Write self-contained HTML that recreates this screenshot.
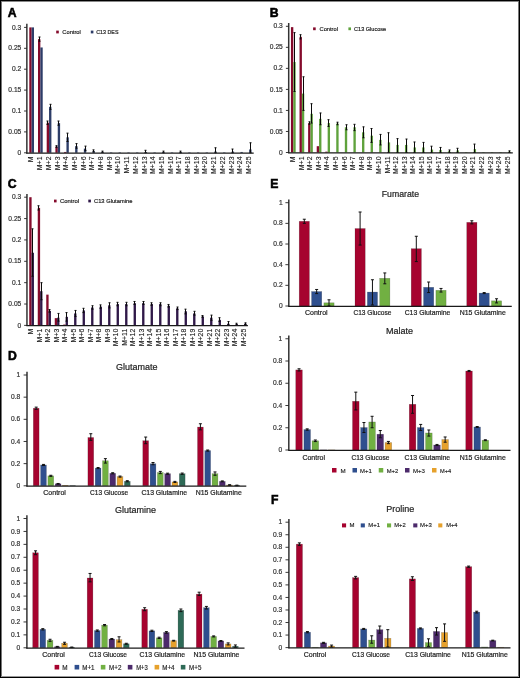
<!DOCTYPE html><html><head><meta charset="utf-8"><style>html,body{margin:0;padding:0;background:#fff;overflow:hidden}svg{display:block}#w{will-change:transform;width:520px;height:678px}text{font-family:"Liberation Sans",sans-serif}</style></head><body><div id="w"><svg width="520" height="678" viewBox="0 0 520 678" font-family="Liberation Sans, sans-serif">
<rect x="0.00" y="0.00" width="520.00" height="678.00" fill="#fff" />
<text x="7.80" y="16.60" font-size="12.2" text-anchor="start" fill="#000" stroke="#000" stroke-width="0.55" font-weight="bold" >A</text>
<text x="269.80" y="16.60" font-size="12.2" text-anchor="start" fill="#000" stroke="#000" stroke-width="0.55" font-weight="bold" >B</text>
<text x="7.80" y="187.80" font-size="12.2" text-anchor="start" fill="#000" stroke="#000" stroke-width="0.55" font-weight="bold" >C</text>
<text x="8.00" y="359.90" font-size="12.2" text-anchor="start" fill="#000" stroke="#000" stroke-width="0.55" font-weight="bold" >D</text>
<text x="270.20" y="187.60" font-size="12.2" text-anchor="start" fill="#000" stroke="#000" stroke-width="0.55" font-weight="bold" >E</text>
<text x="270.90" y="503.90" font-size="12.2" text-anchor="start" fill="#000" stroke="#000" stroke-width="0.55" font-weight="bold" >F</text>
<rect x="29.30" y="27.40" width="2.35" height="125.40" fill="#840A2B" />
<rect x="31.65" y="27.40" width="2.35" height="125.40" fill="#2D3D68" />
<rect x="38.00" y="39.10" width="2.35" height="113.70" fill="#840A2B" />
<line x1="39.50" y1="37.01" x2="39.50" y2="41.19" stroke="#0a0a0a" stroke-width="1.0"/>
<line x1="38.50" y1="37.01" x2="40.50" y2="37.01" stroke="#0a0a0a" stroke-width="1.0"/>
<line x1="38.50" y1="41.19" x2="40.50" y2="41.19" stroke="#0a0a0a" stroke-width="1.0"/>
<rect x="40.35" y="47.46" width="2.35" height="105.34" fill="#2D3D68" />
<rect x="46.70" y="122.70" width="2.35" height="30.10" fill="#840A2B" />
<line x1="47.50" y1="121.03" x2="47.50" y2="124.38" stroke="#0a0a0a" stroke-width="1.0"/>
<line x1="46.50" y1="121.03" x2="48.50" y2="121.03" stroke="#0a0a0a" stroke-width="1.0"/>
<line x1="46.50" y1="124.38" x2="48.50" y2="124.38" stroke="#0a0a0a" stroke-width="1.0"/>
<rect x="49.05" y="106.82" width="2.35" height="45.98" fill="#2D3D68" />
<line x1="50.50" y1="104.31" x2="50.50" y2="109.33" stroke="#0a0a0a" stroke-width="1.0"/>
<line x1="49.50" y1="104.31" x2="51.50" y2="104.31" stroke="#0a0a0a" stroke-width="1.0"/>
<line x1="49.50" y1="109.33" x2="51.50" y2="109.33" stroke="#0a0a0a" stroke-width="1.0"/>
<rect x="55.40" y="146.53" width="2.35" height="6.27" fill="#840A2B" />
<line x1="56.50" y1="145.69" x2="56.50" y2="147.37" stroke="#0a0a0a" stroke-width="1.0"/>
<line x1="55.50" y1="145.69" x2="57.50" y2="145.69" stroke="#0a0a0a" stroke-width="1.0"/>
<line x1="55.50" y1="147.37" x2="57.50" y2="147.37" stroke="#0a0a0a" stroke-width="1.0"/>
<rect x="57.75" y="123.12" width="2.35" height="29.68" fill="#2D3D68" />
<line x1="58.50" y1="121.03" x2="58.50" y2="125.21" stroke="#0a0a0a" stroke-width="1.0"/>
<line x1="57.50" y1="121.03" x2="59.50" y2="121.03" stroke="#0a0a0a" stroke-width="1.0"/>
<line x1="57.50" y1="125.21" x2="59.50" y2="125.21" stroke="#0a0a0a" stroke-width="1.0"/>
<rect x="64.10" y="151.96" width="2.35" height="0.84" fill="#840A2B" />
<rect x="66.45" y="137.33" width="2.35" height="15.47" fill="#2D3D68" />
<line x1="67.50" y1="133.15" x2="67.50" y2="141.51" stroke="#0a0a0a" stroke-width="1.0"/>
<line x1="66.50" y1="133.15" x2="68.50" y2="133.15" stroke="#0a0a0a" stroke-width="1.0"/>
<line x1="66.50" y1="141.51" x2="68.50" y2="141.51" stroke="#0a0a0a" stroke-width="1.0"/>
<rect x="75.15" y="146.11" width="2.35" height="6.69" fill="#2D3D68" />
<line x1="76.50" y1="143.60" x2="76.50" y2="148.20" stroke="#0a0a0a" stroke-width="1.0"/>
<line x1="75.50" y1="143.60" x2="77.50" y2="143.60" stroke="#0a0a0a" stroke-width="1.0"/>
<line x1="75.50" y1="148.20" x2="77.50" y2="148.20" stroke="#0a0a0a" stroke-width="1.0"/>
<rect x="83.85" y="148.62" width="2.35" height="4.18" fill="#2D3D68" />
<line x1="85.50" y1="146.11" x2="85.50" y2="150.71" stroke="#0a0a0a" stroke-width="1.0"/>
<line x1="84.50" y1="146.11" x2="86.50" y2="146.11" stroke="#0a0a0a" stroke-width="1.0"/>
<line x1="84.50" y1="150.71" x2="86.50" y2="150.71" stroke="#0a0a0a" stroke-width="1.0"/>
<rect x="92.55" y="151.13" width="2.35" height="1.67" fill="#2D3D68" />
<line x1="93.50" y1="149.87" x2="93.50" y2="151.96" stroke="#0a0a0a" stroke-width="1.0"/>
<line x1="92.50" y1="149.87" x2="94.50" y2="149.87" stroke="#0a0a0a" stroke-width="1.0"/>
<line x1="92.50" y1="151.96" x2="94.50" y2="151.96" stroke="#0a0a0a" stroke-width="1.0"/>
<rect x="101.25" y="151.96" width="2.35" height="0.84" fill="#2D3D68" />
<line x1="102.50" y1="151.13" x2="102.50" y2="152.38" stroke="#0a0a0a" stroke-width="1.0"/>
<line x1="101.50" y1="151.13" x2="103.50" y2="151.13" stroke="#0a0a0a" stroke-width="1.0"/>
<line x1="101.50" y1="152.38" x2="103.50" y2="152.38" stroke="#0a0a0a" stroke-width="1.0"/>
<rect x="109.95" y="152.38" width="2.35" height="0.42" fill="#2D3D68" />
<rect x="118.65" y="152.38" width="2.35" height="0.42" fill="#2D3D68" />
<rect x="127.35" y="152.38" width="2.35" height="0.42" fill="#2D3D68" />
<rect x="136.05" y="152.38" width="2.35" height="0.42" fill="#2D3D68" />
<rect x="144.75" y="151.96" width="2.35" height="0.84" fill="#2D3D68" />
<line x1="145.50" y1="150.29" x2="145.50" y2="152.80" stroke="#0a0a0a" stroke-width="1.0"/>
<line x1="144.50" y1="150.29" x2="146.50" y2="150.29" stroke="#0a0a0a" stroke-width="1.0"/>
<line x1="144.50" y1="152.80" x2="146.50" y2="152.80" stroke="#0a0a0a" stroke-width="1.0"/>
<rect x="153.45" y="152.38" width="2.35" height="0.42" fill="#2D3D68" />
<rect x="162.15" y="151.96" width="2.35" height="0.84" fill="#2D3D68" />
<line x1="163.50" y1="151.13" x2="163.50" y2="152.80" stroke="#0a0a0a" stroke-width="1.0"/>
<line x1="162.50" y1="151.13" x2="164.50" y2="151.13" stroke="#0a0a0a" stroke-width="1.0"/>
<line x1="162.50" y1="152.80" x2="164.50" y2="152.80" stroke="#0a0a0a" stroke-width="1.0"/>
<rect x="170.85" y="152.38" width="2.35" height="0.42" fill="#2D3D68" />
<rect x="179.55" y="151.96" width="2.35" height="0.84" fill="#2D3D68" />
<line x1="180.50" y1="151.13" x2="180.50" y2="152.80" stroke="#0a0a0a" stroke-width="1.0"/>
<line x1="179.50" y1="151.13" x2="181.50" y2="151.13" stroke="#0a0a0a" stroke-width="1.0"/>
<line x1="179.50" y1="152.80" x2="181.50" y2="152.80" stroke="#0a0a0a" stroke-width="1.0"/>
<rect x="188.25" y="152.38" width="2.35" height="0.42" fill="#2D3D68" />
<rect x="196.95" y="152.38" width="2.35" height="0.42" fill="#2D3D68" />
<rect x="205.65" y="152.38" width="2.35" height="0.42" fill="#2D3D68" />
<rect x="214.35" y="151.55" width="2.35" height="1.25" fill="#2D3D68" />
<line x1="215.50" y1="147.78" x2="215.50" y2="152.80" stroke="#0a0a0a" stroke-width="1.0"/>
<line x1="214.50" y1="147.78" x2="216.50" y2="147.78" stroke="#0a0a0a" stroke-width="1.0"/>
<line x1="214.50" y1="152.80" x2="216.50" y2="152.80" stroke="#0a0a0a" stroke-width="1.0"/>
<rect x="223.05" y="152.38" width="2.35" height="0.42" fill="#2D3D68" />
<rect x="231.75" y="151.55" width="2.35" height="1.25" fill="#2D3D68" />
<line x1="232.50" y1="149.04" x2="232.50" y2="152.80" stroke="#0a0a0a" stroke-width="1.0"/>
<line x1="231.50" y1="149.04" x2="233.50" y2="149.04" stroke="#0a0a0a" stroke-width="1.0"/>
<line x1="231.50" y1="152.80" x2="233.50" y2="152.80" stroke="#0a0a0a" stroke-width="1.0"/>
<rect x="240.45" y="151.96" width="2.35" height="0.84" fill="#2D3D68" />
<rect x="249.15" y="149.46" width="2.35" height="3.34" fill="#2D3D68" />
<line x1="250.50" y1="142.77" x2="250.50" y2="152.80" stroke="#0a0a0a" stroke-width="1.0"/>
<line x1="249.50" y1="142.77" x2="251.50" y2="142.77" stroke="#0a0a0a" stroke-width="1.0"/>
<line x1="249.50" y1="152.80" x2="251.50" y2="152.80" stroke="#0a0a0a" stroke-width="1.0"/>
<line x1="26.85" y1="23.70" x2="26.85" y2="153.40" stroke="#333" stroke-width="1.5"/>
<line x1="26.25" y1="153.10" x2="253.70" y2="153.10" stroke="#1a1a1a" stroke-width="1.3"/>
<line x1="24.05" y1="152.80" x2="26.85" y2="152.80" stroke="#222" stroke-width="0.9"/>
<text x="21.30" y="154.90" font-size="7.6" text-anchor="end" fill="#333" stroke="#333" stroke-width="0.22" textLength="3.70" lengthAdjust="spacingAndGlyphs" >0</text>
<line x1="24.05" y1="131.90" x2="26.85" y2="131.90" stroke="#222" stroke-width="0.9"/>
<text x="21.30" y="134.00" font-size="7.6" text-anchor="end" fill="#333" stroke="#333" stroke-width="0.22" textLength="12.94" lengthAdjust="spacingAndGlyphs" >0.05</text>
<line x1="24.05" y1="111.00" x2="26.85" y2="111.00" stroke="#222" stroke-width="0.9"/>
<text x="21.30" y="113.10" font-size="7.6" text-anchor="end" fill="#333" stroke="#333" stroke-width="0.22" textLength="9.24" lengthAdjust="spacingAndGlyphs" >0.1</text>
<line x1="24.05" y1="90.10" x2="26.85" y2="90.10" stroke="#222" stroke-width="0.9"/>
<text x="21.30" y="92.20" font-size="7.6" text-anchor="end" fill="#333" stroke="#333" stroke-width="0.22" textLength="12.94" lengthAdjust="spacingAndGlyphs" >0.15</text>
<line x1="24.05" y1="69.20" x2="26.85" y2="69.20" stroke="#222" stroke-width="0.9"/>
<text x="21.30" y="71.30" font-size="7.6" text-anchor="end" fill="#333" stroke="#333" stroke-width="0.22" textLength="9.24" lengthAdjust="spacingAndGlyphs" >0.2</text>
<line x1="24.05" y1="48.30" x2="26.85" y2="48.30" stroke="#222" stroke-width="0.9"/>
<text x="21.30" y="50.40" font-size="7.6" text-anchor="end" fill="#333" stroke="#333" stroke-width="0.22" textLength="12.94" lengthAdjust="spacingAndGlyphs" >0.25</text>
<line x1="24.05" y1="27.40" x2="26.85" y2="27.40" stroke="#222" stroke-width="0.9"/>
<text x="21.30" y="29.50" font-size="7.6" text-anchor="end" fill="#333" stroke="#333" stroke-width="0.22" textLength="9.24" lengthAdjust="spacingAndGlyphs" >0.3</text>
<text transform="translate(33.40,156.50) rotate(-90)" font-size="6.95" text-anchor="end" fill="#1a1a1a" stroke="#1a1a1a" stroke-width="0.1">M</text>
<text transform="translate(42.10,156.50) rotate(-90)" font-size="6.95" text-anchor="end" fill="#1a1a1a" stroke="#1a1a1a" stroke-width="0.1">M+1</text>
<text transform="translate(50.80,156.50) rotate(-90)" font-size="6.95" text-anchor="end" fill="#1a1a1a" stroke="#1a1a1a" stroke-width="0.1">M+2</text>
<text transform="translate(59.50,156.50) rotate(-90)" font-size="6.95" text-anchor="end" fill="#1a1a1a" stroke="#1a1a1a" stroke-width="0.1">M+3</text>
<text transform="translate(68.20,156.50) rotate(-90)" font-size="6.95" text-anchor="end" fill="#1a1a1a" stroke="#1a1a1a" stroke-width="0.1">M+4</text>
<text transform="translate(76.90,156.50) rotate(-90)" font-size="6.95" text-anchor="end" fill="#1a1a1a" stroke="#1a1a1a" stroke-width="0.1">M+5</text>
<text transform="translate(85.60,156.50) rotate(-90)" font-size="6.95" text-anchor="end" fill="#1a1a1a" stroke="#1a1a1a" stroke-width="0.1">M+6</text>
<text transform="translate(94.30,156.50) rotate(-90)" font-size="6.95" text-anchor="end" fill="#1a1a1a" stroke="#1a1a1a" stroke-width="0.1">M+7</text>
<text transform="translate(103.00,156.50) rotate(-90)" font-size="6.95" text-anchor="end" fill="#1a1a1a" stroke="#1a1a1a" stroke-width="0.1">M+8</text>
<text transform="translate(111.70,156.50) rotate(-90)" font-size="6.95" text-anchor="end" fill="#1a1a1a" stroke="#1a1a1a" stroke-width="0.1">M+9</text>
<text transform="translate(120.40,156.50) rotate(-90)" font-size="6.95" text-anchor="end" fill="#1a1a1a" stroke="#1a1a1a" stroke-width="0.1">M+10</text>
<text transform="translate(129.10,156.50) rotate(-90)" font-size="6.95" text-anchor="end" fill="#1a1a1a" stroke="#1a1a1a" stroke-width="0.1">M+11</text>
<text transform="translate(137.80,156.50) rotate(-90)" font-size="6.95" text-anchor="end" fill="#1a1a1a" stroke="#1a1a1a" stroke-width="0.1">M+12</text>
<text transform="translate(146.50,156.50) rotate(-90)" font-size="6.95" text-anchor="end" fill="#1a1a1a" stroke="#1a1a1a" stroke-width="0.1">M+13</text>
<text transform="translate(155.20,156.50) rotate(-90)" font-size="6.95" text-anchor="end" fill="#1a1a1a" stroke="#1a1a1a" stroke-width="0.1">M+14</text>
<text transform="translate(163.90,156.50) rotate(-90)" font-size="6.95" text-anchor="end" fill="#1a1a1a" stroke="#1a1a1a" stroke-width="0.1">M+15</text>
<text transform="translate(172.60,156.50) rotate(-90)" font-size="6.95" text-anchor="end" fill="#1a1a1a" stroke="#1a1a1a" stroke-width="0.1">M+16</text>
<text transform="translate(181.30,156.50) rotate(-90)" font-size="6.95" text-anchor="end" fill="#1a1a1a" stroke="#1a1a1a" stroke-width="0.1">M+17</text>
<text transform="translate(190.00,156.50) rotate(-90)" font-size="6.95" text-anchor="end" fill="#1a1a1a" stroke="#1a1a1a" stroke-width="0.1">M+18</text>
<text transform="translate(198.70,156.50) rotate(-90)" font-size="6.95" text-anchor="end" fill="#1a1a1a" stroke="#1a1a1a" stroke-width="0.1">M+19</text>
<text transform="translate(207.40,156.50) rotate(-90)" font-size="6.95" text-anchor="end" fill="#1a1a1a" stroke="#1a1a1a" stroke-width="0.1">M+20</text>
<text transform="translate(216.10,156.50) rotate(-90)" font-size="6.95" text-anchor="end" fill="#1a1a1a" stroke="#1a1a1a" stroke-width="0.1">M+21</text>
<text transform="translate(224.80,156.50) rotate(-90)" font-size="6.95" text-anchor="end" fill="#1a1a1a" stroke="#1a1a1a" stroke-width="0.1">M+22</text>
<text transform="translate(233.50,156.50) rotate(-90)" font-size="6.95" text-anchor="end" fill="#1a1a1a" stroke="#1a1a1a" stroke-width="0.1">M+23</text>
<text transform="translate(242.20,156.50) rotate(-90)" font-size="6.95" text-anchor="end" fill="#1a1a1a" stroke="#1a1a1a" stroke-width="0.1">M+24</text>
<text transform="translate(250.90,156.50) rotate(-90)" font-size="6.95" text-anchor="end" fill="#1a1a1a" stroke="#1a1a1a" stroke-width="0.1">M+25</text>
<rect x="56.20" y="30.60" width="2.60" height="2.80" fill="#840A2B" />
<text x="62.30" y="34.00" font-size="6.0" text-anchor="start" fill="#222" stroke="#222" stroke-width="0.2" textLength="18.50" lengthAdjust="spacingAndGlyphs" >Control</text>
<rect x="90.80" y="30.60" width="2.60" height="2.80" fill="#2D3D68" />
<text x="96.20" y="34.00" font-size="6.0" text-anchor="start" fill="#222" stroke="#222" stroke-width="0.2" textLength="22.30" lengthAdjust="spacingAndGlyphs" >C13 DES</text>
<rect x="290.95" y="27.14" width="2.35" height="125.36" fill="#840A2B" />
<rect x="293.30" y="62.06" width="2.35" height="90.44" fill="#5FA23C" />
<line x1="294.50" y1="32.61" x2="294.50" y2="91.50" stroke="#0a0a0a" stroke-width="1.0"/>
<line x1="293.50" y1="32.61" x2="295.50" y2="32.61" stroke="#0a0a0a" stroke-width="1.0"/>
<line x1="293.50" y1="91.50" x2="295.50" y2="91.50" stroke="#0a0a0a" stroke-width="1.0"/>
<rect x="299.54" y="36.82" width="2.35" height="115.68" fill="#840A2B" />
<line x1="300.50" y1="34.71" x2="300.50" y2="38.92" stroke="#0a0a0a" stroke-width="1.0"/>
<line x1="299.50" y1="34.71" x2="301.50" y2="34.71" stroke="#0a0a0a" stroke-width="1.0"/>
<line x1="299.50" y1="38.92" x2="301.50" y2="38.92" stroke="#0a0a0a" stroke-width="1.0"/>
<rect x="301.89" y="93.61" width="2.35" height="58.89" fill="#5FA23C" />
<line x1="303.50" y1="76.78" x2="303.50" y2="110.43" stroke="#0a0a0a" stroke-width="1.0"/>
<line x1="302.50" y1="76.78" x2="304.50" y2="76.78" stroke="#0a0a0a" stroke-width="1.0"/>
<line x1="302.50" y1="110.43" x2="304.50" y2="110.43" stroke="#0a0a0a" stroke-width="1.0"/>
<rect x="308.13" y="123.05" width="2.35" height="29.45" fill="#840A2B" />
<line x1="309.50" y1="121.79" x2="309.50" y2="124.32" stroke="#0a0a0a" stroke-width="1.0"/>
<line x1="308.50" y1="121.79" x2="310.50" y2="121.79" stroke="#0a0a0a" stroke-width="1.0"/>
<line x1="308.50" y1="124.32" x2="310.50" y2="124.32" stroke="#0a0a0a" stroke-width="1.0"/>
<rect x="310.48" y="113.80" width="2.35" height="38.70" fill="#5FA23C" />
<line x1="311.50" y1="103.70" x2="311.50" y2="123.05" stroke="#0a0a0a" stroke-width="1.0"/>
<line x1="310.50" y1="103.70" x2="312.50" y2="103.70" stroke="#0a0a0a" stroke-width="1.0"/>
<line x1="310.50" y1="123.05" x2="312.50" y2="123.05" stroke="#0a0a0a" stroke-width="1.0"/>
<rect x="316.72" y="146.19" width="2.35" height="6.31" fill="#840A2B" />
<rect x="319.07" y="118.85" width="2.35" height="33.65" fill="#5FA23C" />
<line x1="320.50" y1="112.96" x2="320.50" y2="124.74" stroke="#0a0a0a" stroke-width="1.0"/>
<line x1="319.50" y1="112.96" x2="321.50" y2="112.96" stroke="#0a0a0a" stroke-width="1.0"/>
<line x1="319.50" y1="124.74" x2="321.50" y2="124.74" stroke="#0a0a0a" stroke-width="1.0"/>
<rect x="325.31" y="151.66" width="2.35" height="0.84" fill="#840A2B" />
<rect x="327.66" y="123.05" width="2.35" height="29.45" fill="#5FA23C" />
<line x1="328.50" y1="119.69" x2="328.50" y2="126.42" stroke="#0a0a0a" stroke-width="1.0"/>
<line x1="327.50" y1="119.69" x2="329.50" y2="119.69" stroke="#0a0a0a" stroke-width="1.0"/>
<line x1="327.50" y1="126.42" x2="329.50" y2="126.42" stroke="#0a0a0a" stroke-width="1.0"/>
<rect x="336.25" y="123.47" width="2.35" height="29.03" fill="#5FA23C" />
<line x1="337.50" y1="122.21" x2="337.50" y2="124.74" stroke="#0a0a0a" stroke-width="1.0"/>
<line x1="336.50" y1="122.21" x2="338.50" y2="122.21" stroke="#0a0a0a" stroke-width="1.0"/>
<line x1="336.50" y1="124.74" x2="338.50" y2="124.74" stroke="#0a0a0a" stroke-width="1.0"/>
<rect x="344.84" y="127.26" width="2.35" height="25.24" fill="#5FA23C" />
<line x1="346.50" y1="124.74" x2="346.50" y2="129.78" stroke="#0a0a0a" stroke-width="1.0"/>
<line x1="345.50" y1="124.74" x2="347.50" y2="124.74" stroke="#0a0a0a" stroke-width="1.0"/>
<line x1="345.50" y1="129.78" x2="347.50" y2="129.78" stroke="#0a0a0a" stroke-width="1.0"/>
<rect x="353.43" y="127.26" width="2.35" height="25.24" fill="#5FA23C" />
<line x1="354.50" y1="124.32" x2="354.50" y2="130.63" stroke="#0a0a0a" stroke-width="1.0"/>
<line x1="353.50" y1="124.32" x2="355.50" y2="124.32" stroke="#0a0a0a" stroke-width="1.0"/>
<line x1="353.50" y1="130.63" x2="355.50" y2="130.63" stroke="#0a0a0a" stroke-width="1.0"/>
<rect x="362.02" y="132.31" width="2.35" height="20.19" fill="#5FA23C" />
<line x1="363.50" y1="126.84" x2="363.50" y2="137.78" stroke="#0a0a0a" stroke-width="1.0"/>
<line x1="362.50" y1="126.84" x2="364.50" y2="126.84" stroke="#0a0a0a" stroke-width="1.0"/>
<line x1="362.50" y1="137.78" x2="364.50" y2="137.78" stroke="#0a0a0a" stroke-width="1.0"/>
<rect x="370.61" y="135.67" width="2.35" height="16.83" fill="#5FA23C" />
<line x1="371.50" y1="128.52" x2="371.50" y2="142.40" stroke="#0a0a0a" stroke-width="1.0"/>
<line x1="370.50" y1="128.52" x2="372.50" y2="128.52" stroke="#0a0a0a" stroke-width="1.0"/>
<line x1="370.50" y1="142.40" x2="372.50" y2="142.40" stroke="#0a0a0a" stroke-width="1.0"/>
<rect x="379.20" y="139.88" width="2.35" height="12.62" fill="#5FA23C" />
<line x1="380.50" y1="134.41" x2="380.50" y2="144.93" stroke="#0a0a0a" stroke-width="1.0"/>
<line x1="379.50" y1="134.41" x2="381.50" y2="134.41" stroke="#0a0a0a" stroke-width="1.0"/>
<line x1="379.50" y1="144.93" x2="381.50" y2="144.93" stroke="#0a0a0a" stroke-width="1.0"/>
<rect x="387.79" y="142.40" width="2.35" height="10.10" fill="#5FA23C" />
<line x1="388.50" y1="132.73" x2="388.50" y2="152.50" stroke="#0a0a0a" stroke-width="1.0"/>
<line x1="387.50" y1="132.73" x2="389.50" y2="132.73" stroke="#0a0a0a" stroke-width="1.0"/>
<line x1="387.50" y1="152.50" x2="389.50" y2="152.50" stroke="#0a0a0a" stroke-width="1.0"/>
<rect x="396.38" y="144.93" width="2.35" height="7.57" fill="#5FA23C" />
<line x1="397.50" y1="138.62" x2="397.50" y2="152.50" stroke="#0a0a0a" stroke-width="1.0"/>
<line x1="396.50" y1="138.62" x2="398.50" y2="138.62" stroke="#0a0a0a" stroke-width="1.0"/>
<line x1="396.50" y1="152.50" x2="398.50" y2="152.50" stroke="#0a0a0a" stroke-width="1.0"/>
<rect x="404.97" y="144.93" width="2.35" height="7.57" fill="#5FA23C" />
<line x1="406.50" y1="139.04" x2="406.50" y2="152.50" stroke="#0a0a0a" stroke-width="1.0"/>
<line x1="405.50" y1="139.04" x2="407.50" y2="139.04" stroke="#0a0a0a" stroke-width="1.0"/>
<line x1="405.50" y1="152.50" x2="407.50" y2="152.50" stroke="#0a0a0a" stroke-width="1.0"/>
<rect x="413.56" y="147.45" width="2.35" height="5.05" fill="#5FA23C" />
<line x1="414.50" y1="141.98" x2="414.50" y2="152.50" stroke="#0a0a0a" stroke-width="1.0"/>
<line x1="413.50" y1="141.98" x2="415.50" y2="141.98" stroke="#0a0a0a" stroke-width="1.0"/>
<line x1="413.50" y1="152.50" x2="415.50" y2="152.50" stroke="#0a0a0a" stroke-width="1.0"/>
<rect x="422.15" y="147.45" width="2.35" height="5.05" fill="#5FA23C" />
<line x1="423.50" y1="142.40" x2="423.50" y2="152.50" stroke="#0a0a0a" stroke-width="1.0"/>
<line x1="422.50" y1="142.40" x2="424.50" y2="142.40" stroke="#0a0a0a" stroke-width="1.0"/>
<line x1="422.50" y1="152.50" x2="424.50" y2="152.50" stroke="#0a0a0a" stroke-width="1.0"/>
<rect x="430.74" y="149.56" width="2.35" height="2.94" fill="#5FA23C" />
<line x1="431.50" y1="146.19" x2="431.50" y2="152.50" stroke="#0a0a0a" stroke-width="1.0"/>
<line x1="430.50" y1="146.19" x2="432.50" y2="146.19" stroke="#0a0a0a" stroke-width="1.0"/>
<line x1="430.50" y1="152.50" x2="432.50" y2="152.50" stroke="#0a0a0a" stroke-width="1.0"/>
<rect x="439.33" y="149.98" width="2.35" height="2.52" fill="#5FA23C" />
<line x1="440.50" y1="147.45" x2="440.50" y2="152.50" stroke="#0a0a0a" stroke-width="1.0"/>
<line x1="439.50" y1="147.45" x2="441.50" y2="147.45" stroke="#0a0a0a" stroke-width="1.0"/>
<line x1="439.50" y1="152.50" x2="441.50" y2="152.50" stroke="#0a0a0a" stroke-width="1.0"/>
<rect x="447.92" y="151.24" width="2.35" height="1.26" fill="#5FA23C" />
<line x1="449.50" y1="149.98" x2="449.50" y2="152.50" stroke="#0a0a0a" stroke-width="1.0"/>
<line x1="448.50" y1="149.98" x2="450.50" y2="149.98" stroke="#0a0a0a" stroke-width="1.0"/>
<line x1="448.50" y1="152.50" x2="450.50" y2="152.50" stroke="#0a0a0a" stroke-width="1.0"/>
<rect x="456.51" y="150.40" width="2.35" height="2.10" fill="#5FA23C" />
<line x1="457.50" y1="148.29" x2="457.50" y2="152.50" stroke="#0a0a0a" stroke-width="1.0"/>
<line x1="456.50" y1="148.29" x2="458.50" y2="148.29" stroke="#0a0a0a" stroke-width="1.0"/>
<line x1="456.50" y1="152.50" x2="458.50" y2="152.50" stroke="#0a0a0a" stroke-width="1.0"/>
<rect x="465.10" y="152.08" width="2.35" height="0.42" fill="#5FA23C" />
<rect x="473.69" y="149.13" width="2.35" height="3.37" fill="#5FA23C" />
<line x1="474.50" y1="144.09" x2="474.50" y2="152.50" stroke="#0a0a0a" stroke-width="1.0"/>
<line x1="473.50" y1="144.09" x2="475.50" y2="144.09" stroke="#0a0a0a" stroke-width="1.0"/>
<line x1="473.50" y1="152.50" x2="475.50" y2="152.50" stroke="#0a0a0a" stroke-width="1.0"/>
<rect x="482.28" y="152.08" width="2.35" height="0.42" fill="#5FA23C" />
<rect x="490.87" y="152.08" width="2.35" height="0.42" fill="#5FA23C" />
<rect x="499.46" y="152.08" width="2.35" height="0.42" fill="#5FA23C" />
<rect x="508.05" y="151.66" width="2.35" height="0.84" fill="#5FA23C" />
<line x1="509.50" y1="150.82" x2="509.50" y2="152.50" stroke="#0a0a0a" stroke-width="1.0"/>
<line x1="508.50" y1="150.82" x2="510.50" y2="150.82" stroke="#0a0a0a" stroke-width="1.0"/>
<line x1="508.50" y1="152.50" x2="510.50" y2="152.50" stroke="#0a0a0a" stroke-width="1.0"/>
<line x1="288.70" y1="23.00" x2="288.70" y2="153.10" stroke="#333" stroke-width="1.5"/>
<line x1="288.10" y1="152.80" x2="512.80" y2="152.80" stroke="#1a1a1a" stroke-width="1.3"/>
<line x1="285.90" y1="152.50" x2="288.70" y2="152.50" stroke="#222" stroke-width="0.9"/>
<text x="282.80" y="154.60" font-size="7.6" text-anchor="end" fill="#333" stroke="#333" stroke-width="0.22" textLength="3.70" lengthAdjust="spacingAndGlyphs" >0</text>
<line x1="285.90" y1="131.47" x2="288.70" y2="131.47" stroke="#222" stroke-width="0.9"/>
<text x="282.80" y="133.57" font-size="7.6" text-anchor="end" fill="#333" stroke="#333" stroke-width="0.22" textLength="12.94" lengthAdjust="spacingAndGlyphs" >0.05</text>
<line x1="285.90" y1="110.43" x2="288.70" y2="110.43" stroke="#222" stroke-width="0.9"/>
<text x="282.80" y="112.53" font-size="7.6" text-anchor="end" fill="#333" stroke="#333" stroke-width="0.22" textLength="9.24" lengthAdjust="spacingAndGlyphs" >0.1</text>
<line x1="285.90" y1="89.40" x2="288.70" y2="89.40" stroke="#222" stroke-width="0.9"/>
<text x="282.80" y="91.50" font-size="7.6" text-anchor="end" fill="#333" stroke="#333" stroke-width="0.22" textLength="12.94" lengthAdjust="spacingAndGlyphs" >0.15</text>
<line x1="285.90" y1="68.37" x2="288.70" y2="68.37" stroke="#222" stroke-width="0.9"/>
<text x="282.80" y="70.47" font-size="7.6" text-anchor="end" fill="#333" stroke="#333" stroke-width="0.22" textLength="9.24" lengthAdjust="spacingAndGlyphs" >0.2</text>
<line x1="285.90" y1="47.33" x2="288.70" y2="47.33" stroke="#222" stroke-width="0.9"/>
<text x="282.80" y="49.43" font-size="7.6" text-anchor="end" fill="#333" stroke="#333" stroke-width="0.22" textLength="12.94" lengthAdjust="spacingAndGlyphs" >0.25</text>
<line x1="285.90" y1="26.30" x2="288.70" y2="26.30" stroke="#222" stroke-width="0.9"/>
<text x="282.80" y="28.40" font-size="7.6" text-anchor="end" fill="#333" stroke="#333" stroke-width="0.22" textLength="9.24" lengthAdjust="spacingAndGlyphs" >0.3</text>
<text transform="translate(295.05,156.50) rotate(-90)" font-size="6.95" text-anchor="end" fill="#1a1a1a" stroke="#1a1a1a" stroke-width="0.1">M</text>
<text transform="translate(303.64,156.50) rotate(-90)" font-size="6.95" text-anchor="end" fill="#1a1a1a" stroke="#1a1a1a" stroke-width="0.1">M+1</text>
<text transform="translate(312.23,156.50) rotate(-90)" font-size="6.95" text-anchor="end" fill="#1a1a1a" stroke="#1a1a1a" stroke-width="0.1">M+2</text>
<text transform="translate(320.82,156.50) rotate(-90)" font-size="6.95" text-anchor="end" fill="#1a1a1a" stroke="#1a1a1a" stroke-width="0.1">M+3</text>
<text transform="translate(329.41,156.50) rotate(-90)" font-size="6.95" text-anchor="end" fill="#1a1a1a" stroke="#1a1a1a" stroke-width="0.1">M+4</text>
<text transform="translate(338.00,156.50) rotate(-90)" font-size="6.95" text-anchor="end" fill="#1a1a1a" stroke="#1a1a1a" stroke-width="0.1">M+5</text>
<text transform="translate(346.59,156.50) rotate(-90)" font-size="6.95" text-anchor="end" fill="#1a1a1a" stroke="#1a1a1a" stroke-width="0.1">M+6</text>
<text transform="translate(355.18,156.50) rotate(-90)" font-size="6.95" text-anchor="end" fill="#1a1a1a" stroke="#1a1a1a" stroke-width="0.1">M+7</text>
<text transform="translate(363.77,156.50) rotate(-90)" font-size="6.95" text-anchor="end" fill="#1a1a1a" stroke="#1a1a1a" stroke-width="0.1">M+8</text>
<text transform="translate(372.36,156.50) rotate(-90)" font-size="6.95" text-anchor="end" fill="#1a1a1a" stroke="#1a1a1a" stroke-width="0.1">M+9</text>
<text transform="translate(380.95,156.50) rotate(-90)" font-size="6.95" text-anchor="end" fill="#1a1a1a" stroke="#1a1a1a" stroke-width="0.1">M+10</text>
<text transform="translate(389.54,156.50) rotate(-90)" font-size="6.95" text-anchor="end" fill="#1a1a1a" stroke="#1a1a1a" stroke-width="0.1">M+11</text>
<text transform="translate(398.13,156.50) rotate(-90)" font-size="6.95" text-anchor="end" fill="#1a1a1a" stroke="#1a1a1a" stroke-width="0.1">M+12</text>
<text transform="translate(406.72,156.50) rotate(-90)" font-size="6.95" text-anchor="end" fill="#1a1a1a" stroke="#1a1a1a" stroke-width="0.1">M+13</text>
<text transform="translate(415.31,156.50) rotate(-90)" font-size="6.95" text-anchor="end" fill="#1a1a1a" stroke="#1a1a1a" stroke-width="0.1">M+14</text>
<text transform="translate(423.90,156.50) rotate(-90)" font-size="6.95" text-anchor="end" fill="#1a1a1a" stroke="#1a1a1a" stroke-width="0.1">M+15</text>
<text transform="translate(432.49,156.50) rotate(-90)" font-size="6.95" text-anchor="end" fill="#1a1a1a" stroke="#1a1a1a" stroke-width="0.1">M+16</text>
<text transform="translate(441.08,156.50) rotate(-90)" font-size="6.95" text-anchor="end" fill="#1a1a1a" stroke="#1a1a1a" stroke-width="0.1">M+17</text>
<text transform="translate(449.67,156.50) rotate(-90)" font-size="6.95" text-anchor="end" fill="#1a1a1a" stroke="#1a1a1a" stroke-width="0.1">M+18</text>
<text transform="translate(458.26,156.50) rotate(-90)" font-size="6.95" text-anchor="end" fill="#1a1a1a" stroke="#1a1a1a" stroke-width="0.1">M+19</text>
<text transform="translate(466.85,156.50) rotate(-90)" font-size="6.95" text-anchor="end" fill="#1a1a1a" stroke="#1a1a1a" stroke-width="0.1">M+20</text>
<text transform="translate(475.44,156.50) rotate(-90)" font-size="6.95" text-anchor="end" fill="#1a1a1a" stroke="#1a1a1a" stroke-width="0.1">M+21</text>
<text transform="translate(484.03,156.50) rotate(-90)" font-size="6.95" text-anchor="end" fill="#1a1a1a" stroke="#1a1a1a" stroke-width="0.1">M+22</text>
<text transform="translate(492.62,156.50) rotate(-90)" font-size="6.95" text-anchor="end" fill="#1a1a1a" stroke="#1a1a1a" stroke-width="0.1">M+23</text>
<text transform="translate(501.21,156.50) rotate(-90)" font-size="6.95" text-anchor="end" fill="#1a1a1a" stroke="#1a1a1a" stroke-width="0.1">M+24</text>
<text transform="translate(509.80,156.50) rotate(-90)" font-size="6.95" text-anchor="end" fill="#1a1a1a" stroke="#1a1a1a" stroke-width="0.1">M+25</text>
<rect x="313.10" y="27.40" width="2.60" height="2.80" fill="#840A2B" />
<text x="319.50" y="30.80" font-size="6.0" text-anchor="start" fill="#222" stroke="#222" stroke-width="0.2" textLength="18.50" lengthAdjust="spacingAndGlyphs" >Control</text>
<rect x="348.40" y="27.40" width="2.60" height="2.80" fill="#5FA23C" />
<text x="354.10" y="30.80" font-size="6.0" text-anchor="start" fill="#222" stroke="#222" stroke-width="0.2" textLength="32.00" lengthAdjust="spacingAndGlyphs" >C13 Glucose</text>
<rect x="29.25" y="197.20" width="2.35" height="128.20" fill="#840A2B" />
<rect x="31.60" y="252.75" width="2.35" height="72.65" fill="#2F1848" />
<line x1="32.50" y1="228.82" x2="32.50" y2="276.26" stroke="#0a0a0a" stroke-width="1.0"/>
<line x1="31.50" y1="228.82" x2="33.50" y2="228.82" stroke="#0a0a0a" stroke-width="1.0"/>
<line x1="31.50" y1="276.26" x2="33.50" y2="276.26" stroke="#0a0a0a" stroke-width="1.0"/>
<rect x="37.75" y="207.88" width="2.35" height="117.52" fill="#840A2B" />
<line x1="38.50" y1="205.75" x2="38.50" y2="210.02" stroke="#0a0a0a" stroke-width="1.0"/>
<line x1="37.50" y1="205.75" x2="39.50" y2="205.75" stroke="#0a0a0a" stroke-width="1.0"/>
<line x1="37.50" y1="210.02" x2="39.50" y2="210.02" stroke="#0a0a0a" stroke-width="1.0"/>
<rect x="40.10" y="291.21" width="2.35" height="34.19" fill="#2F1848" />
<line x1="41.50" y1="282.67" x2="41.50" y2="299.76" stroke="#0a0a0a" stroke-width="1.0"/>
<line x1="40.50" y1="282.67" x2="42.50" y2="282.67" stroke="#0a0a0a" stroke-width="1.0"/>
<line x1="40.50" y1="299.76" x2="42.50" y2="299.76" stroke="#0a0a0a" stroke-width="1.0"/>
<rect x="46.25" y="294.63" width="2.35" height="30.77" fill="#840A2B" />
<rect x="48.60" y="310.87" width="2.35" height="14.53" fill="#2F1848" />
<line x1="49.50" y1="309.59" x2="49.50" y2="312.15" stroke="#0a0a0a" stroke-width="1.0"/>
<line x1="48.50" y1="309.59" x2="50.50" y2="309.59" stroke="#0a0a0a" stroke-width="1.0"/>
<line x1="48.50" y1="312.15" x2="50.50" y2="312.15" stroke="#0a0a0a" stroke-width="1.0"/>
<rect x="54.75" y="318.14" width="2.35" height="7.26" fill="#840A2B" />
<rect x="57.10" y="317.71" width="2.35" height="7.69" fill="#2F1848" />
<line x1="58.50" y1="313.43" x2="58.50" y2="321.13" stroke="#0a0a0a" stroke-width="1.0"/>
<line x1="57.50" y1="313.43" x2="59.50" y2="313.43" stroke="#0a0a0a" stroke-width="1.0"/>
<line x1="57.50" y1="321.13" x2="59.50" y2="321.13" stroke="#0a0a0a" stroke-width="1.0"/>
<rect x="63.25" y="324.55" width="2.35" height="0.85" fill="#840A2B" />
<rect x="65.60" y="316.85" width="2.35" height="8.55" fill="#2F1848" />
<line x1="66.50" y1="312.58" x2="66.50" y2="321.13" stroke="#0a0a0a" stroke-width="1.0"/>
<line x1="65.50" y1="312.58" x2="67.50" y2="312.58" stroke="#0a0a0a" stroke-width="1.0"/>
<line x1="65.50" y1="321.13" x2="67.50" y2="321.13" stroke="#0a0a0a" stroke-width="1.0"/>
<rect x="74.10" y="313.43" width="2.35" height="11.97" fill="#2F1848" />
<line x1="75.50" y1="310.44" x2="75.50" y2="316.43" stroke="#0a0a0a" stroke-width="1.0"/>
<line x1="74.50" y1="310.44" x2="76.50" y2="310.44" stroke="#0a0a0a" stroke-width="1.0"/>
<line x1="74.50" y1="316.43" x2="76.50" y2="316.43" stroke="#0a0a0a" stroke-width="1.0"/>
<rect x="82.60" y="310.44" width="2.35" height="14.96" fill="#2F1848" />
<line x1="83.50" y1="308.31" x2="83.50" y2="312.58" stroke="#0a0a0a" stroke-width="1.0"/>
<line x1="82.50" y1="308.31" x2="84.50" y2="308.31" stroke="#0a0a0a" stroke-width="1.0"/>
<line x1="82.50" y1="312.58" x2="84.50" y2="312.58" stroke="#0a0a0a" stroke-width="1.0"/>
<rect x="91.10" y="307.45" width="2.35" height="17.95" fill="#2F1848" />
<line x1="92.50" y1="305.74" x2="92.50" y2="309.16" stroke="#0a0a0a" stroke-width="1.0"/>
<line x1="91.50" y1="305.74" x2="93.50" y2="305.74" stroke="#0a0a0a" stroke-width="1.0"/>
<line x1="91.50" y1="309.16" x2="93.50" y2="309.16" stroke="#0a0a0a" stroke-width="1.0"/>
<rect x="99.60" y="306.60" width="2.35" height="18.80" fill="#2F1848" />
<line x1="100.50" y1="304.89" x2="100.50" y2="308.31" stroke="#0a0a0a" stroke-width="1.0"/>
<line x1="99.50" y1="304.89" x2="101.50" y2="304.89" stroke="#0a0a0a" stroke-width="1.0"/>
<line x1="99.50" y1="308.31" x2="101.50" y2="308.31" stroke="#0a0a0a" stroke-width="1.0"/>
<rect x="108.10" y="305.32" width="2.35" height="20.08" fill="#2F1848" />
<line x1="109.50" y1="302.75" x2="109.50" y2="307.88" stroke="#0a0a0a" stroke-width="1.0"/>
<line x1="108.50" y1="302.75" x2="110.50" y2="302.75" stroke="#0a0a0a" stroke-width="1.0"/>
<line x1="108.50" y1="307.88" x2="110.50" y2="307.88" stroke="#0a0a0a" stroke-width="1.0"/>
<rect x="116.60" y="304.03" width="2.35" height="21.37" fill="#2F1848" />
<line x1="117.50" y1="302.32" x2="117.50" y2="305.74" stroke="#0a0a0a" stroke-width="1.0"/>
<line x1="116.50" y1="302.32" x2="118.50" y2="302.32" stroke="#0a0a0a" stroke-width="1.0"/>
<line x1="116.50" y1="305.74" x2="118.50" y2="305.74" stroke="#0a0a0a" stroke-width="1.0"/>
<rect x="125.10" y="304.03" width="2.35" height="21.37" fill="#2F1848" />
<line x1="126.50" y1="302.32" x2="126.50" y2="305.74" stroke="#0a0a0a" stroke-width="1.0"/>
<line x1="125.50" y1="302.32" x2="127.50" y2="302.32" stroke="#0a0a0a" stroke-width="1.0"/>
<line x1="125.50" y1="305.74" x2="127.50" y2="305.74" stroke="#0a0a0a" stroke-width="1.0"/>
<rect x="133.60" y="303.18" width="2.35" height="22.22" fill="#2F1848" />
<line x1="134.50" y1="301.47" x2="134.50" y2="304.46" stroke="#0a0a0a" stroke-width="1.0"/>
<line x1="133.50" y1="301.47" x2="135.50" y2="301.47" stroke="#0a0a0a" stroke-width="1.0"/>
<line x1="133.50" y1="304.46" x2="135.50" y2="304.46" stroke="#0a0a0a" stroke-width="1.0"/>
<rect x="142.10" y="303.18" width="2.35" height="22.22" fill="#2F1848" />
<line x1="143.50" y1="301.47" x2="143.50" y2="304.46" stroke="#0a0a0a" stroke-width="1.0"/>
<line x1="142.50" y1="301.47" x2="144.50" y2="301.47" stroke="#0a0a0a" stroke-width="1.0"/>
<line x1="142.50" y1="304.46" x2="144.50" y2="304.46" stroke="#0a0a0a" stroke-width="1.0"/>
<rect x="150.60" y="304.03" width="2.35" height="21.37" fill="#2F1848" />
<line x1="151.50" y1="302.75" x2="151.50" y2="305.32" stroke="#0a0a0a" stroke-width="1.0"/>
<line x1="150.50" y1="302.75" x2="152.50" y2="302.75" stroke="#0a0a0a" stroke-width="1.0"/>
<line x1="150.50" y1="305.32" x2="152.50" y2="305.32" stroke="#0a0a0a" stroke-width="1.0"/>
<rect x="159.10" y="304.03" width="2.35" height="21.37" fill="#2F1848" />
<line x1="160.50" y1="302.75" x2="160.50" y2="305.74" stroke="#0a0a0a" stroke-width="1.0"/>
<line x1="159.50" y1="302.75" x2="161.50" y2="302.75" stroke="#0a0a0a" stroke-width="1.0"/>
<line x1="159.50" y1="305.74" x2="161.50" y2="305.74" stroke="#0a0a0a" stroke-width="1.0"/>
<rect x="167.60" y="305.74" width="2.35" height="19.66" fill="#2F1848" />
<line x1="168.50" y1="304.46" x2="168.50" y2="307.02" stroke="#0a0a0a" stroke-width="1.0"/>
<line x1="167.50" y1="304.46" x2="169.50" y2="304.46" stroke="#0a0a0a" stroke-width="1.0"/>
<line x1="167.50" y1="307.02" x2="169.50" y2="307.02" stroke="#0a0a0a" stroke-width="1.0"/>
<rect x="176.10" y="308.31" width="2.35" height="17.09" fill="#2F1848" />
<line x1="177.50" y1="307.02" x2="177.50" y2="309.59" stroke="#0a0a0a" stroke-width="1.0"/>
<line x1="176.50" y1="307.02" x2="178.50" y2="307.02" stroke="#0a0a0a" stroke-width="1.0"/>
<line x1="176.50" y1="309.59" x2="178.50" y2="309.59" stroke="#0a0a0a" stroke-width="1.0"/>
<rect x="184.60" y="311.30" width="2.35" height="14.10" fill="#2F1848" />
<line x1="185.50" y1="309.16" x2="185.50" y2="313.86" stroke="#0a0a0a" stroke-width="1.0"/>
<line x1="184.50" y1="309.16" x2="186.50" y2="309.16" stroke="#0a0a0a" stroke-width="1.0"/>
<line x1="184.50" y1="313.86" x2="186.50" y2="313.86" stroke="#0a0a0a" stroke-width="1.0"/>
<rect x="193.10" y="313.43" width="2.35" height="11.97" fill="#2F1848" />
<line x1="194.50" y1="311.30" x2="194.50" y2="315.14" stroke="#0a0a0a" stroke-width="1.0"/>
<line x1="193.50" y1="311.30" x2="195.50" y2="311.30" stroke="#0a0a0a" stroke-width="1.0"/>
<line x1="193.50" y1="315.14" x2="195.50" y2="315.14" stroke="#0a0a0a" stroke-width="1.0"/>
<rect x="201.60" y="316.43" width="2.35" height="8.97" fill="#2F1848" />
<line x1="202.50" y1="315.57" x2="202.50" y2="317.28" stroke="#0a0a0a" stroke-width="1.0"/>
<line x1="201.50" y1="315.57" x2="203.50" y2="315.57" stroke="#0a0a0a" stroke-width="1.0"/>
<line x1="201.50" y1="317.28" x2="203.50" y2="317.28" stroke="#0a0a0a" stroke-width="1.0"/>
<rect x="210.10" y="317.71" width="2.35" height="7.69" fill="#2F1848" />
<line x1="211.50" y1="315.14" x2="211.50" y2="320.27" stroke="#0a0a0a" stroke-width="1.0"/>
<line x1="210.50" y1="315.14" x2="212.50" y2="315.14" stroke="#0a0a0a" stroke-width="1.0"/>
<line x1="210.50" y1="320.27" x2="212.50" y2="320.27" stroke="#0a0a0a" stroke-width="1.0"/>
<rect x="218.60" y="319.84" width="2.35" height="5.56" fill="#2F1848" />
<line x1="219.50" y1="317.71" x2="219.50" y2="321.55" stroke="#0a0a0a" stroke-width="1.0"/>
<line x1="218.50" y1="317.71" x2="220.50" y2="317.71" stroke="#0a0a0a" stroke-width="1.0"/>
<line x1="218.50" y1="321.55" x2="220.50" y2="321.55" stroke="#0a0a0a" stroke-width="1.0"/>
<rect x="227.10" y="323.69" width="2.35" height="1.71" fill="#2F1848" />
<line x1="228.50" y1="321.55" x2="228.50" y2="324.97" stroke="#0a0a0a" stroke-width="1.0"/>
<line x1="227.50" y1="321.55" x2="229.50" y2="321.55" stroke="#0a0a0a" stroke-width="1.0"/>
<line x1="227.50" y1="324.97" x2="229.50" y2="324.97" stroke="#0a0a0a" stroke-width="1.0"/>
<rect x="235.60" y="324.12" width="2.35" height="1.28" fill="#2F1848" />
<line x1="236.50" y1="323.26" x2="236.50" y2="324.97" stroke="#0a0a0a" stroke-width="1.0"/>
<line x1="235.50" y1="323.26" x2="237.50" y2="323.26" stroke="#0a0a0a" stroke-width="1.0"/>
<line x1="235.50" y1="324.97" x2="237.50" y2="324.97" stroke="#0a0a0a" stroke-width="1.0"/>
<rect x="244.10" y="323.69" width="2.35" height="1.71" fill="#2F1848" />
<line x1="245.50" y1="322.84" x2="245.50" y2="324.55" stroke="#0a0a0a" stroke-width="1.0"/>
<line x1="244.50" y1="322.84" x2="246.50" y2="322.84" stroke="#0a0a0a" stroke-width="1.0"/>
<line x1="244.50" y1="324.55" x2="246.50" y2="324.55" stroke="#0a0a0a" stroke-width="1.0"/>
<line x1="26.95" y1="194.00" x2="26.95" y2="326.00" stroke="#333" stroke-width="1.5"/>
<line x1="26.35" y1="325.70" x2="247.90" y2="325.70" stroke="#1a1a1a" stroke-width="1.3"/>
<line x1="24.15" y1="325.40" x2="26.95" y2="325.40" stroke="#222" stroke-width="0.9"/>
<text x="21.30" y="327.50" font-size="7.6" text-anchor="end" fill="#333" stroke="#333" stroke-width="0.22" textLength="3.70" lengthAdjust="spacingAndGlyphs" >0</text>
<line x1="24.15" y1="304.03" x2="26.95" y2="304.03" stroke="#222" stroke-width="0.9"/>
<text x="21.30" y="306.13" font-size="7.6" text-anchor="end" fill="#333" stroke="#333" stroke-width="0.22" textLength="12.94" lengthAdjust="spacingAndGlyphs" >0.05</text>
<line x1="24.15" y1="282.67" x2="26.95" y2="282.67" stroke="#222" stroke-width="0.9"/>
<text x="21.30" y="284.77" font-size="7.6" text-anchor="end" fill="#333" stroke="#333" stroke-width="0.22" textLength="9.24" lengthAdjust="spacingAndGlyphs" >0.1</text>
<line x1="24.15" y1="261.30" x2="26.95" y2="261.30" stroke="#222" stroke-width="0.9"/>
<text x="21.30" y="263.40" font-size="7.6" text-anchor="end" fill="#333" stroke="#333" stroke-width="0.22" textLength="12.94" lengthAdjust="spacingAndGlyphs" >0.15</text>
<line x1="24.15" y1="239.93" x2="26.95" y2="239.93" stroke="#222" stroke-width="0.9"/>
<text x="21.30" y="242.03" font-size="7.6" text-anchor="end" fill="#333" stroke="#333" stroke-width="0.22" textLength="9.24" lengthAdjust="spacingAndGlyphs" >0.2</text>
<line x1="24.15" y1="218.57" x2="26.95" y2="218.57" stroke="#222" stroke-width="0.9"/>
<text x="21.30" y="220.67" font-size="7.6" text-anchor="end" fill="#333" stroke="#333" stroke-width="0.22" textLength="12.94" lengthAdjust="spacingAndGlyphs" >0.25</text>
<line x1="24.15" y1="197.20" x2="26.95" y2="197.20" stroke="#222" stroke-width="0.9"/>
<text x="21.30" y="199.30" font-size="7.6" text-anchor="end" fill="#333" stroke="#333" stroke-width="0.22" textLength="9.24" lengthAdjust="spacingAndGlyphs" >0.3</text>
<text transform="translate(33.35,328.70) rotate(-90)" font-size="6.95" text-anchor="end" fill="#1a1a1a" stroke="#1a1a1a" stroke-width="0.1">M</text>
<text transform="translate(41.85,328.70) rotate(-90)" font-size="6.95" text-anchor="end" fill="#1a1a1a" stroke="#1a1a1a" stroke-width="0.1">M+1</text>
<text transform="translate(50.35,328.70) rotate(-90)" font-size="6.95" text-anchor="end" fill="#1a1a1a" stroke="#1a1a1a" stroke-width="0.1">M+2</text>
<text transform="translate(58.85,328.70) rotate(-90)" font-size="6.95" text-anchor="end" fill="#1a1a1a" stroke="#1a1a1a" stroke-width="0.1">M+3</text>
<text transform="translate(67.35,328.70) rotate(-90)" font-size="6.95" text-anchor="end" fill="#1a1a1a" stroke="#1a1a1a" stroke-width="0.1">M+4</text>
<text transform="translate(75.85,328.70) rotate(-90)" font-size="6.95" text-anchor="end" fill="#1a1a1a" stroke="#1a1a1a" stroke-width="0.1">M+5</text>
<text transform="translate(84.35,328.70) rotate(-90)" font-size="6.95" text-anchor="end" fill="#1a1a1a" stroke="#1a1a1a" stroke-width="0.1">M+6</text>
<text transform="translate(92.85,328.70) rotate(-90)" font-size="6.95" text-anchor="end" fill="#1a1a1a" stroke="#1a1a1a" stroke-width="0.1">M+7</text>
<text transform="translate(101.35,328.70) rotate(-90)" font-size="6.95" text-anchor="end" fill="#1a1a1a" stroke="#1a1a1a" stroke-width="0.1">M+8</text>
<text transform="translate(109.85,328.70) rotate(-90)" font-size="6.95" text-anchor="end" fill="#1a1a1a" stroke="#1a1a1a" stroke-width="0.1">M+9</text>
<text transform="translate(118.35,328.70) rotate(-90)" font-size="6.95" text-anchor="end" fill="#1a1a1a" stroke="#1a1a1a" stroke-width="0.1">M+10</text>
<text transform="translate(126.85,328.70) rotate(-90)" font-size="6.95" text-anchor="end" fill="#1a1a1a" stroke="#1a1a1a" stroke-width="0.1">M+11</text>
<text transform="translate(135.35,328.70) rotate(-90)" font-size="6.95" text-anchor="end" fill="#1a1a1a" stroke="#1a1a1a" stroke-width="0.1">M+12</text>
<text transform="translate(143.85,328.70) rotate(-90)" font-size="6.95" text-anchor="end" fill="#1a1a1a" stroke="#1a1a1a" stroke-width="0.1">M+13</text>
<text transform="translate(152.35,328.70) rotate(-90)" font-size="6.95" text-anchor="end" fill="#1a1a1a" stroke="#1a1a1a" stroke-width="0.1">M+14</text>
<text transform="translate(160.85,328.70) rotate(-90)" font-size="6.95" text-anchor="end" fill="#1a1a1a" stroke="#1a1a1a" stroke-width="0.1">M+15</text>
<text transform="translate(169.35,328.70) rotate(-90)" font-size="6.95" text-anchor="end" fill="#1a1a1a" stroke="#1a1a1a" stroke-width="0.1">M+16</text>
<text transform="translate(177.85,328.70) rotate(-90)" font-size="6.95" text-anchor="end" fill="#1a1a1a" stroke="#1a1a1a" stroke-width="0.1">M+17</text>
<text transform="translate(186.35,328.70) rotate(-90)" font-size="6.95" text-anchor="end" fill="#1a1a1a" stroke="#1a1a1a" stroke-width="0.1">M+18</text>
<text transform="translate(194.85,328.70) rotate(-90)" font-size="6.95" text-anchor="end" fill="#1a1a1a" stroke="#1a1a1a" stroke-width="0.1">M+19</text>
<text transform="translate(203.35,328.70) rotate(-90)" font-size="6.95" text-anchor="end" fill="#1a1a1a" stroke="#1a1a1a" stroke-width="0.1">M+20</text>
<text transform="translate(211.85,328.70) rotate(-90)" font-size="6.95" text-anchor="end" fill="#1a1a1a" stroke="#1a1a1a" stroke-width="0.1">M+21</text>
<text transform="translate(220.35,328.70) rotate(-90)" font-size="6.95" text-anchor="end" fill="#1a1a1a" stroke="#1a1a1a" stroke-width="0.1">M+22</text>
<text transform="translate(228.85,328.70) rotate(-90)" font-size="6.95" text-anchor="end" fill="#1a1a1a" stroke="#1a1a1a" stroke-width="0.1">M+23</text>
<text transform="translate(237.35,328.70) rotate(-90)" font-size="6.95" text-anchor="end" fill="#1a1a1a" stroke="#1a1a1a" stroke-width="0.1">M+24</text>
<text transform="translate(245.85,328.70) rotate(-90)" font-size="6.95" text-anchor="end" fill="#1a1a1a" stroke="#1a1a1a" stroke-width="0.1">M+25</text>
<rect x="54.00" y="199.60" width="2.60" height="2.80" fill="#840A2B" />
<text x="60.00" y="203.00" font-size="6.0" text-anchor="start" fill="#222" stroke="#222" stroke-width="0.2" textLength="19.10" lengthAdjust="spacingAndGlyphs" >Control</text>
<rect x="88.30" y="199.60" width="2.60" height="2.80" fill="#2F1848" />
<text x="94.00" y="203.00" font-size="6.0" text-anchor="start" fill="#222" stroke="#222" stroke-width="0.2" textLength="38.40" lengthAdjust="spacingAndGlyphs" >C13 Glutamine</text>
<text x="136.80" y="370.10" font-size="9.0" text-anchor="middle" fill="#222" stroke="#222" stroke-width="0.2" >Glutamate</text>
<rect x="33.30" y="408.24" width="5.80" height="77.56" fill="#A6032F" stroke="#222" stroke-opacity="0.35" stroke-width="0.5"/>
<line x1="36.20" y1="407.13" x2="36.20" y2="409.35" stroke="#111" stroke-width="1.0"/>
<line x1="34.70" y1="407.13" x2="37.70" y2="407.13" stroke="#111" stroke-width="1.0"/>
<line x1="34.70" y1="409.35" x2="37.70" y2="409.35" stroke="#111" stroke-width="1.0"/>
<rect x="40.60" y="464.97" width="5.80" height="20.83" fill="#2F4F8E" stroke="#222" stroke-opacity="0.35" stroke-width="0.5"/>
<line x1="43.50" y1="464.42" x2="43.50" y2="465.52" stroke="#111" stroke-width="1.0"/>
<line x1="42.00" y1="464.42" x2="45.00" y2="464.42" stroke="#111" stroke-width="1.0"/>
<line x1="42.00" y1="465.52" x2="45.00" y2="465.52" stroke="#111" stroke-width="1.0"/>
<rect x="47.90" y="475.83" width="5.80" height="9.97" fill="#71B042" stroke="#222" stroke-opacity="0.35" stroke-width="0.5"/>
<line x1="50.80" y1="475.27" x2="50.80" y2="476.38" stroke="#111" stroke-width="1.0"/>
<line x1="49.30" y1="475.27" x2="52.30" y2="475.27" stroke="#111" stroke-width="1.0"/>
<line x1="49.30" y1="476.38" x2="52.30" y2="476.38" stroke="#111" stroke-width="1.0"/>
<rect x="55.20" y="483.81" width="5.80" height="1.99" fill="#4C2A6B" stroke="#222" stroke-opacity="0.35" stroke-width="0.5"/>
<line x1="58.10" y1="483.47" x2="58.10" y2="484.14" stroke="#111" stroke-width="1.0"/>
<line x1="56.60" y1="483.47" x2="59.60" y2="483.47" stroke="#111" stroke-width="1.0"/>
<line x1="56.60" y1="484.14" x2="59.60" y2="484.14" stroke="#111" stroke-width="1.0"/>
<rect x="62.50" y="485.25" width="5.80" height="0.55" fill="#E6A12C" stroke="#222" stroke-opacity="0.35" stroke-width="0.5"/>
<rect x="69.80" y="485.58" width="5.80" height="0.22" fill="#2E6A57" stroke="#222" stroke-opacity="0.35" stroke-width="0.5"/>
<rect x="87.90" y="437.49" width="5.80" height="48.31" fill="#A6032F" stroke="#222" stroke-opacity="0.35" stroke-width="0.5"/>
<line x1="90.80" y1="433.72" x2="90.80" y2="440.37" stroke="#111" stroke-width="1.0"/>
<line x1="89.30" y1="433.72" x2="92.30" y2="433.72" stroke="#111" stroke-width="1.0"/>
<line x1="89.30" y1="440.37" x2="92.30" y2="440.37" stroke="#111" stroke-width="1.0"/>
<rect x="95.20" y="468.07" width="5.80" height="17.73" fill="#2F4F8E" stroke="#222" stroke-opacity="0.35" stroke-width="0.5"/>
<line x1="98.10" y1="467.52" x2="98.10" y2="468.63" stroke="#111" stroke-width="1.0"/>
<line x1="96.60" y1="467.52" x2="99.60" y2="467.52" stroke="#111" stroke-width="1.0"/>
<line x1="96.60" y1="468.63" x2="99.60" y2="468.63" stroke="#111" stroke-width="1.0"/>
<rect x="102.50" y="460.76" width="5.80" height="25.04" fill="#71B042" stroke="#222" stroke-opacity="0.35" stroke-width="0.5"/>
<line x1="105.40" y1="458.65" x2="105.40" y2="463.09" stroke="#111" stroke-width="1.0"/>
<line x1="103.90" y1="458.65" x2="106.90" y2="458.65" stroke="#111" stroke-width="1.0"/>
<line x1="103.90" y1="463.09" x2="106.90" y2="463.09" stroke="#111" stroke-width="1.0"/>
<rect x="109.80" y="473.28" width="5.80" height="12.52" fill="#4C2A6B" stroke="#222" stroke-opacity="0.35" stroke-width="0.5"/>
<line x1="112.70" y1="472.73" x2="112.70" y2="473.83" stroke="#111" stroke-width="1.0"/>
<line x1="111.20" y1="472.73" x2="114.20" y2="472.73" stroke="#111" stroke-width="1.0"/>
<line x1="111.20" y1="473.83" x2="114.20" y2="473.83" stroke="#111" stroke-width="1.0"/>
<rect x="117.10" y="476.60" width="5.80" height="9.20" fill="#E6A12C" stroke="#222" stroke-opacity="0.35" stroke-width="0.5"/>
<line x1="120.00" y1="476.05" x2="120.00" y2="477.16" stroke="#111" stroke-width="1.0"/>
<line x1="118.50" y1="476.05" x2="121.50" y2="476.05" stroke="#111" stroke-width="1.0"/>
<line x1="118.50" y1="477.16" x2="121.50" y2="477.16" stroke="#111" stroke-width="1.0"/>
<rect x="124.40" y="481.26" width="5.80" height="4.54" fill="#2E6A57" stroke="#222" stroke-opacity="0.35" stroke-width="0.5"/>
<line x1="127.30" y1="480.70" x2="127.30" y2="481.81" stroke="#111" stroke-width="1.0"/>
<line x1="125.80" y1="480.70" x2="128.80" y2="480.70" stroke="#111" stroke-width="1.0"/>
<line x1="125.80" y1="481.81" x2="128.80" y2="481.81" stroke="#111" stroke-width="1.0"/>
<rect x="142.80" y="440.70" width="5.80" height="45.10" fill="#A6032F" stroke="#222" stroke-opacity="0.35" stroke-width="0.5"/>
<line x1="145.70" y1="437.05" x2="145.70" y2="443.70" stroke="#111" stroke-width="1.0"/>
<line x1="144.20" y1="437.05" x2="147.20" y2="437.05" stroke="#111" stroke-width="1.0"/>
<line x1="144.20" y1="443.70" x2="147.20" y2="443.70" stroke="#111" stroke-width="1.0"/>
<rect x="150.10" y="463.75" width="5.80" height="22.05" fill="#2F4F8E" stroke="#222" stroke-opacity="0.35" stroke-width="0.5"/>
<line x1="153.00" y1="462.53" x2="153.00" y2="464.75" stroke="#111" stroke-width="1.0"/>
<line x1="151.50" y1="462.53" x2="154.50" y2="462.53" stroke="#111" stroke-width="1.0"/>
<line x1="151.50" y1="464.75" x2="154.50" y2="464.75" stroke="#111" stroke-width="1.0"/>
<rect x="157.40" y="472.50" width="5.80" height="13.30" fill="#71B042" stroke="#222" stroke-opacity="0.35" stroke-width="0.5"/>
<line x1="160.30" y1="471.40" x2="160.30" y2="473.61" stroke="#111" stroke-width="1.0"/>
<line x1="158.80" y1="471.40" x2="161.80" y2="471.40" stroke="#111" stroke-width="1.0"/>
<line x1="158.80" y1="473.61" x2="161.80" y2="473.61" stroke="#111" stroke-width="1.0"/>
<rect x="164.70" y="473.72" width="5.80" height="12.08" fill="#4C2A6B" stroke="#222" stroke-opacity="0.35" stroke-width="0.5"/>
<line x1="167.60" y1="473.17" x2="167.60" y2="474.28" stroke="#111" stroke-width="1.0"/>
<line x1="166.10" y1="473.17" x2="169.10" y2="473.17" stroke="#111" stroke-width="1.0"/>
<line x1="166.10" y1="474.28" x2="169.10" y2="474.28" stroke="#111" stroke-width="1.0"/>
<rect x="172.00" y="481.92" width="5.80" height="3.88" fill="#E6A12C" stroke="#222" stroke-opacity="0.35" stroke-width="0.5"/>
<line x1="174.90" y1="481.37" x2="174.90" y2="482.48" stroke="#111" stroke-width="1.0"/>
<line x1="173.40" y1="481.37" x2="176.40" y2="481.37" stroke="#111" stroke-width="1.0"/>
<line x1="173.40" y1="482.48" x2="176.40" y2="482.48" stroke="#111" stroke-width="1.0"/>
<rect x="179.30" y="473.72" width="5.80" height="12.08" fill="#2E6A57" stroke="#222" stroke-opacity="0.35" stroke-width="0.5"/>
<line x1="182.20" y1="473.06" x2="182.20" y2="474.39" stroke="#111" stroke-width="1.0"/>
<line x1="180.70" y1="473.06" x2="183.70" y2="473.06" stroke="#111" stroke-width="1.0"/>
<line x1="180.70" y1="474.39" x2="183.70" y2="474.39" stroke="#111" stroke-width="1.0"/>
<rect x="197.50" y="427.08" width="5.80" height="58.72" fill="#A6032F" stroke="#222" stroke-opacity="0.35" stroke-width="0.5"/>
<line x1="200.40" y1="423.75" x2="200.40" y2="429.85" stroke="#111" stroke-width="1.0"/>
<line x1="198.90" y1="423.75" x2="201.90" y2="423.75" stroke="#111" stroke-width="1.0"/>
<line x1="198.90" y1="429.85" x2="201.90" y2="429.85" stroke="#111" stroke-width="1.0"/>
<rect x="204.80" y="450.57" width="5.80" height="35.23" fill="#2F4F8E" stroke="#222" stroke-opacity="0.35" stroke-width="0.5"/>
<line x1="207.70" y1="450.01" x2="207.70" y2="451.12" stroke="#111" stroke-width="1.0"/>
<line x1="206.20" y1="450.01" x2="209.20" y2="450.01" stroke="#111" stroke-width="1.0"/>
<line x1="206.20" y1="451.12" x2="209.20" y2="451.12" stroke="#111" stroke-width="1.0"/>
<rect x="212.10" y="473.72" width="5.80" height="12.08" fill="#71B042" stroke="#222" stroke-opacity="0.35" stroke-width="0.5"/>
<line x1="215.00" y1="471.95" x2="215.00" y2="475.27" stroke="#111" stroke-width="1.0"/>
<line x1="213.50" y1="471.95" x2="216.50" y2="471.95" stroke="#111" stroke-width="1.0"/>
<line x1="213.50" y1="475.27" x2="216.50" y2="475.27" stroke="#111" stroke-width="1.0"/>
<rect x="219.40" y="481.37" width="5.80" height="4.43" fill="#4C2A6B" stroke="#222" stroke-opacity="0.35" stroke-width="0.5"/>
<line x1="222.30" y1="480.92" x2="222.30" y2="481.81" stroke="#111" stroke-width="1.0"/>
<line x1="220.80" y1="480.92" x2="223.80" y2="480.92" stroke="#111" stroke-width="1.0"/>
<line x1="220.80" y1="481.81" x2="223.80" y2="481.81" stroke="#111" stroke-width="1.0"/>
<rect x="226.70" y="485.02" width="5.80" height="0.78" fill="#E6A12C" stroke="#222" stroke-opacity="0.35" stroke-width="0.5"/>
<line x1="229.60" y1="484.69" x2="229.60" y2="485.36" stroke="#111" stroke-width="1.0"/>
<line x1="228.10" y1="484.69" x2="231.10" y2="484.69" stroke="#111" stroke-width="1.0"/>
<line x1="228.10" y1="485.36" x2="231.10" y2="485.36" stroke="#111" stroke-width="1.0"/>
<rect x="234.00" y="485.47" width="5.80" height="0.33" fill="#2E6A57" stroke="#222" stroke-opacity="0.35" stroke-width="0.5"/>
<line x1="236.90" y1="485.14" x2="236.90" y2="485.69" stroke="#111" stroke-width="1.0"/>
<line x1="235.40" y1="485.14" x2="238.40" y2="485.14" stroke="#111" stroke-width="1.0"/>
<line x1="235.40" y1="485.69" x2="238.40" y2="485.69" stroke="#111" stroke-width="1.0"/>
<line x1="27.00" y1="371.70" x2="27.00" y2="486.40" stroke="#333" stroke-width="1.5"/>
<line x1="26.40" y1="486.10" x2="246.30" y2="486.10" stroke="#1a1a1a" stroke-width="1.3"/>
<line x1="23.60" y1="485.80" x2="27.00" y2="485.80" stroke="#222" stroke-width="0.9"/>
<text x="20.20" y="487.90" font-size="7.6" text-anchor="end" fill="#333" stroke="#333" stroke-width="0.22" textLength="3.70" lengthAdjust="spacingAndGlyphs" >0</text>
<line x1="23.60" y1="463.64" x2="27.00" y2="463.64" stroke="#222" stroke-width="0.9"/>
<text x="20.20" y="465.74" font-size="7.6" text-anchor="end" fill="#333" stroke="#333" stroke-width="0.22" textLength="9.24" lengthAdjust="spacingAndGlyphs" >0.2</text>
<line x1="23.60" y1="441.48" x2="27.00" y2="441.48" stroke="#222" stroke-width="0.9"/>
<text x="20.20" y="443.58" font-size="7.6" text-anchor="end" fill="#333" stroke="#333" stroke-width="0.22" textLength="9.24" lengthAdjust="spacingAndGlyphs" >0.4</text>
<line x1="23.60" y1="419.32" x2="27.00" y2="419.32" stroke="#222" stroke-width="0.9"/>
<text x="20.20" y="421.42" font-size="7.6" text-anchor="end" fill="#333" stroke="#333" stroke-width="0.22" textLength="9.24" lengthAdjust="spacingAndGlyphs" >0.6</text>
<line x1="23.60" y1="397.16" x2="27.00" y2="397.16" stroke="#222" stroke-width="0.9"/>
<text x="20.20" y="399.26" font-size="7.6" text-anchor="end" fill="#333" stroke="#333" stroke-width="0.22" textLength="9.24" lengthAdjust="spacingAndGlyphs" >0.8</text>
<line x1="23.60" y1="375.00" x2="27.00" y2="375.00" stroke="#222" stroke-width="0.9"/>
<text x="20.20" y="377.10" font-size="7.6" text-anchor="end" fill="#333" stroke="#333" stroke-width="0.22" textLength="3.70" lengthAdjust="spacingAndGlyphs" >1</text>
<text x="54.60" y="494.80" font-size="6.9" text-anchor="middle" fill="#222" stroke="#222" stroke-width="0.2" textLength="22.60" lengthAdjust="spacingAndGlyphs" >Control</text>
<text x="109.10" y="494.80" font-size="6.9" text-anchor="middle" fill="#222" stroke="#222" stroke-width="0.2" textLength="38.00" lengthAdjust="spacingAndGlyphs" >C13 Glucose</text>
<text x="164.20" y="494.80" font-size="6.9" text-anchor="middle" fill="#222" stroke="#222" stroke-width="0.2" textLength="45.60" lengthAdjust="spacingAndGlyphs" >C13 Glutamine</text>
<text x="218.80" y="494.80" font-size="6.9" text-anchor="middle" fill="#222" stroke="#222" stroke-width="0.2" textLength="46.00" lengthAdjust="spacingAndGlyphs" >N15 Glutamine</text>
<text x="135.60" y="513.00" font-size="9.0" text-anchor="middle" fill="#222" stroke="#222" stroke-width="0.2" >Glutamine</text>
<rect x="32.70" y="552.76" width="5.70" height="95.04" fill="#A6032F" stroke="#222" stroke-opacity="0.35" stroke-width="0.5"/>
<line x1="35.55" y1="550.83" x2="35.55" y2="554.70" stroke="#111" stroke-width="1.0"/>
<line x1="34.05" y1="550.83" x2="37.05" y2="550.83" stroke="#111" stroke-width="1.0"/>
<line x1="34.05" y1="554.70" x2="37.05" y2="554.70" stroke="#111" stroke-width="1.0"/>
<rect x="39.95" y="629.31" width="5.70" height="18.49" fill="#2F4F8E" stroke="#222" stroke-opacity="0.35" stroke-width="0.5"/>
<line x1="42.80" y1="628.66" x2="42.80" y2="629.96" stroke="#111" stroke-width="1.0"/>
<line x1="41.30" y1="628.66" x2="44.30" y2="628.66" stroke="#111" stroke-width="1.0"/>
<line x1="41.30" y1="629.96" x2="44.30" y2="629.96" stroke="#111" stroke-width="1.0"/>
<rect x="47.20" y="640.30" width="5.70" height="7.50" fill="#71B042" stroke="#222" stroke-opacity="0.35" stroke-width="0.5"/>
<line x1="50.05" y1="639.27" x2="50.05" y2="641.33" stroke="#111" stroke-width="1.0"/>
<line x1="48.55" y1="639.27" x2="51.55" y2="639.27" stroke="#111" stroke-width="1.0"/>
<line x1="48.55" y1="641.33" x2="51.55" y2="641.33" stroke="#111" stroke-width="1.0"/>
<rect x="54.45" y="646.77" width="5.70" height="1.03" fill="#4C2A6B" stroke="#222" stroke-opacity="0.35" stroke-width="0.5"/>
<line x1="57.30" y1="646.38" x2="57.30" y2="647.15" stroke="#111" stroke-width="1.0"/>
<line x1="55.80" y1="646.38" x2="58.80" y2="646.38" stroke="#111" stroke-width="1.0"/>
<line x1="55.80" y1="647.15" x2="58.80" y2="647.15" stroke="#111" stroke-width="1.0"/>
<rect x="61.70" y="643.27" width="5.70" height="4.53" fill="#E6A12C" stroke="#222" stroke-opacity="0.35" stroke-width="0.5"/>
<line x1="64.55" y1="642.24" x2="64.55" y2="644.31" stroke="#111" stroke-width="1.0"/>
<line x1="63.05" y1="642.24" x2="66.05" y2="642.24" stroke="#111" stroke-width="1.0"/>
<line x1="63.05" y1="644.31" x2="66.05" y2="644.31" stroke="#111" stroke-width="1.0"/>
<rect x="68.95" y="647.28" width="5.70" height="0.52" fill="#2E6A57" stroke="#222" stroke-opacity="0.35" stroke-width="0.5"/>
<line x1="71.80" y1="647.02" x2="71.80" y2="647.54" stroke="#111" stroke-width="1.0"/>
<line x1="70.30" y1="647.02" x2="73.30" y2="647.02" stroke="#111" stroke-width="1.0"/>
<line x1="70.30" y1="647.54" x2="73.30" y2="647.54" stroke="#111" stroke-width="1.0"/>
<rect x="87.20" y="577.98" width="5.70" height="69.82" fill="#A6032F" stroke="#222" stroke-opacity="0.35" stroke-width="0.5"/>
<line x1="90.05" y1="573.45" x2="90.05" y2="581.86" stroke="#111" stroke-width="1.0"/>
<line x1="88.55" y1="573.45" x2="91.55" y2="573.45" stroke="#111" stroke-width="1.0"/>
<line x1="88.55" y1="581.86" x2="91.55" y2="581.86" stroke="#111" stroke-width="1.0"/>
<rect x="94.45" y="630.60" width="5.70" height="17.20" fill="#2F4F8E" stroke="#222" stroke-opacity="0.35" stroke-width="0.5"/>
<line x1="97.30" y1="629.96" x2="97.30" y2="631.25" stroke="#111" stroke-width="1.0"/>
<line x1="95.80" y1="629.96" x2="98.80" y2="629.96" stroke="#111" stroke-width="1.0"/>
<line x1="95.80" y1="631.25" x2="98.80" y2="631.25" stroke="#111" stroke-width="1.0"/>
<rect x="101.70" y="625.17" width="5.70" height="22.63" fill="#71B042" stroke="#222" stroke-opacity="0.35" stroke-width="0.5"/>
<line x1="104.55" y1="624.53" x2="104.55" y2="625.82" stroke="#111" stroke-width="1.0"/>
<line x1="103.05" y1="624.53" x2="106.05" y2="624.53" stroke="#111" stroke-width="1.0"/>
<line x1="103.05" y1="625.82" x2="106.05" y2="625.82" stroke="#111" stroke-width="1.0"/>
<rect x="108.95" y="639.01" width="5.70" height="8.79" fill="#4C2A6B" stroke="#222" stroke-opacity="0.35" stroke-width="0.5"/>
<line x1="111.80" y1="638.49" x2="111.80" y2="639.52" stroke="#111" stroke-width="1.0"/>
<line x1="110.30" y1="638.49" x2="113.30" y2="638.49" stroke="#111" stroke-width="1.0"/>
<line x1="110.30" y1="639.52" x2="113.30" y2="639.52" stroke="#111" stroke-width="1.0"/>
<rect x="116.20" y="639.65" width="5.70" height="8.15" fill="#E6A12C" stroke="#222" stroke-opacity="0.35" stroke-width="0.5"/>
<line x1="119.05" y1="636.81" x2="119.05" y2="641.98" stroke="#111" stroke-width="1.0"/>
<line x1="117.55" y1="636.81" x2="120.55" y2="636.81" stroke="#111" stroke-width="1.0"/>
<line x1="117.55" y1="641.98" x2="120.55" y2="641.98" stroke="#111" stroke-width="1.0"/>
<rect x="123.45" y="643.79" width="5.70" height="4.01" fill="#2E6A57" stroke="#222" stroke-opacity="0.35" stroke-width="0.5"/>
<line x1="126.30" y1="643.27" x2="126.30" y2="644.31" stroke="#111" stroke-width="1.0"/>
<line x1="124.80" y1="643.27" x2="127.80" y2="643.27" stroke="#111" stroke-width="1.0"/>
<line x1="124.80" y1="644.31" x2="127.80" y2="644.31" stroke="#111" stroke-width="1.0"/>
<rect x="141.80" y="609.27" width="5.70" height="38.53" fill="#A6032F" stroke="#222" stroke-opacity="0.35" stroke-width="0.5"/>
<line x1="144.65" y1="607.72" x2="144.65" y2="610.69" stroke="#111" stroke-width="1.0"/>
<line x1="143.15" y1="607.72" x2="146.15" y2="607.72" stroke="#111" stroke-width="1.0"/>
<line x1="143.15" y1="610.69" x2="146.15" y2="610.69" stroke="#111" stroke-width="1.0"/>
<rect x="149.05" y="630.86" width="5.70" height="16.94" fill="#2F4F8E" stroke="#222" stroke-opacity="0.35" stroke-width="0.5"/>
<line x1="151.90" y1="630.22" x2="151.90" y2="631.51" stroke="#111" stroke-width="1.0"/>
<line x1="150.40" y1="630.22" x2="153.40" y2="630.22" stroke="#111" stroke-width="1.0"/>
<line x1="150.40" y1="631.51" x2="153.40" y2="631.51" stroke="#111" stroke-width="1.0"/>
<rect x="156.30" y="637.84" width="5.70" height="9.96" fill="#71B042" stroke="#222" stroke-opacity="0.35" stroke-width="0.5"/>
<line x1="159.15" y1="637.20" x2="159.15" y2="638.49" stroke="#111" stroke-width="1.0"/>
<line x1="157.65" y1="637.20" x2="160.65" y2="637.20" stroke="#111" stroke-width="1.0"/>
<line x1="157.65" y1="638.49" x2="160.65" y2="638.49" stroke="#111" stroke-width="1.0"/>
<rect x="163.55" y="632.41" width="5.70" height="15.39" fill="#4C2A6B" stroke="#222" stroke-opacity="0.35" stroke-width="0.5"/>
<line x1="166.40" y1="631.64" x2="166.40" y2="633.19" stroke="#111" stroke-width="1.0"/>
<line x1="164.90" y1="631.64" x2="167.90" y2="631.64" stroke="#111" stroke-width="1.0"/>
<line x1="164.90" y1="633.19" x2="167.90" y2="633.19" stroke="#111" stroke-width="1.0"/>
<rect x="170.80" y="640.69" width="5.70" height="7.11" fill="#E6A12C" stroke="#222" stroke-opacity="0.35" stroke-width="0.5"/>
<line x1="173.65" y1="640.30" x2="173.65" y2="641.08" stroke="#111" stroke-width="1.0"/>
<line x1="172.15" y1="640.30" x2="175.15" y2="640.30" stroke="#111" stroke-width="1.0"/>
<line x1="172.15" y1="641.08" x2="175.15" y2="641.08" stroke="#111" stroke-width="1.0"/>
<rect x="178.05" y="610.30" width="5.70" height="37.50" fill="#2E6A57" stroke="#222" stroke-opacity="0.35" stroke-width="0.5"/>
<line x1="180.90" y1="609.01" x2="180.90" y2="611.60" stroke="#111" stroke-width="1.0"/>
<line x1="179.40" y1="609.01" x2="182.40" y2="609.01" stroke="#111" stroke-width="1.0"/>
<line x1="179.40" y1="611.60" x2="182.40" y2="611.60" stroke="#111" stroke-width="1.0"/>
<rect x="196.30" y="594.14" width="5.70" height="53.66" fill="#A6032F" stroke="#222" stroke-opacity="0.35" stroke-width="0.5"/>
<line x1="199.15" y1="592.20" x2="199.15" y2="595.43" stroke="#111" stroke-width="1.0"/>
<line x1="197.65" y1="592.20" x2="200.65" y2="592.20" stroke="#111" stroke-width="1.0"/>
<line x1="197.65" y1="595.43" x2="200.65" y2="595.43" stroke="#111" stroke-width="1.0"/>
<rect x="203.55" y="607.72" width="5.70" height="40.08" fill="#2F4F8E" stroke="#222" stroke-opacity="0.35" stroke-width="0.5"/>
<line x1="206.40" y1="606.42" x2="206.40" y2="609.01" stroke="#111" stroke-width="1.0"/>
<line x1="204.90" y1="606.42" x2="207.90" y2="606.42" stroke="#111" stroke-width="1.0"/>
<line x1="204.90" y1="609.01" x2="207.90" y2="609.01" stroke="#111" stroke-width="1.0"/>
<rect x="210.80" y="636.42" width="5.70" height="11.38" fill="#71B042" stroke="#222" stroke-opacity="0.35" stroke-width="0.5"/>
<line x1="213.65" y1="635.90" x2="213.65" y2="636.94" stroke="#111" stroke-width="1.0"/>
<line x1="212.15" y1="635.90" x2="215.15" y2="635.90" stroke="#111" stroke-width="1.0"/>
<line x1="212.15" y1="636.94" x2="215.15" y2="636.94" stroke="#111" stroke-width="1.0"/>
<rect x="218.05" y="640.95" width="5.70" height="6.85" fill="#4C2A6B" stroke="#222" stroke-opacity="0.35" stroke-width="0.5"/>
<line x1="220.90" y1="640.56" x2="220.90" y2="641.33" stroke="#111" stroke-width="1.0"/>
<line x1="219.40" y1="640.56" x2="222.40" y2="640.56" stroke="#111" stroke-width="1.0"/>
<line x1="219.40" y1="641.33" x2="222.40" y2="641.33" stroke="#111" stroke-width="1.0"/>
<rect x="225.30" y="643.92" width="5.70" height="3.88" fill="#E6A12C" stroke="#222" stroke-opacity="0.35" stroke-width="0.5"/>
<line x1="228.15" y1="642.89" x2="228.15" y2="644.96" stroke="#111" stroke-width="1.0"/>
<line x1="226.65" y1="642.89" x2="229.65" y2="642.89" stroke="#111" stroke-width="1.0"/>
<line x1="226.65" y1="644.96" x2="229.65" y2="644.96" stroke="#111" stroke-width="1.0"/>
<rect x="232.55" y="646.25" width="5.70" height="1.55" fill="#2E6A57" stroke="#222" stroke-opacity="0.35" stroke-width="0.5"/>
<line x1="235.40" y1="644.96" x2="235.40" y2="647.28" stroke="#111" stroke-width="1.0"/>
<line x1="233.90" y1="644.96" x2="236.90" y2="644.96" stroke="#111" stroke-width="1.0"/>
<line x1="233.90" y1="647.28" x2="236.90" y2="647.28" stroke="#111" stroke-width="1.0"/>
<line x1="26.90" y1="515.20" x2="26.90" y2="648.40" stroke="#333" stroke-width="1.5"/>
<line x1="26.30" y1="648.10" x2="244.50" y2="648.10" stroke="#1a1a1a" stroke-width="1.3"/>
<line x1="23.50" y1="647.80" x2="26.90" y2="647.80" stroke="#222" stroke-width="0.9"/>
<text x="20.20" y="649.90" font-size="7.6" text-anchor="end" fill="#333" stroke="#333" stroke-width="0.22" textLength="3.70" lengthAdjust="spacingAndGlyphs" >0</text>
<line x1="23.50" y1="634.87" x2="26.90" y2="634.87" stroke="#222" stroke-width="0.9"/>
<text x="20.20" y="636.97" font-size="7.6" text-anchor="end" fill="#333" stroke="#333" stroke-width="0.22" textLength="9.24" lengthAdjust="spacingAndGlyphs" >0.1</text>
<line x1="23.50" y1="621.94" x2="26.90" y2="621.94" stroke="#222" stroke-width="0.9"/>
<text x="20.20" y="624.04" font-size="7.6" text-anchor="end" fill="#333" stroke="#333" stroke-width="0.22" textLength="9.24" lengthAdjust="spacingAndGlyphs" >0.2</text>
<line x1="23.50" y1="609.01" x2="26.90" y2="609.01" stroke="#222" stroke-width="0.9"/>
<text x="20.20" y="611.11" font-size="7.6" text-anchor="end" fill="#333" stroke="#333" stroke-width="0.22" textLength="9.24" lengthAdjust="spacingAndGlyphs" >0.3</text>
<line x1="23.50" y1="596.08" x2="26.90" y2="596.08" stroke="#222" stroke-width="0.9"/>
<text x="20.20" y="598.18" font-size="7.6" text-anchor="end" fill="#333" stroke="#333" stroke-width="0.22" textLength="9.24" lengthAdjust="spacingAndGlyphs" >0.4</text>
<line x1="23.50" y1="583.15" x2="26.90" y2="583.15" stroke="#222" stroke-width="0.9"/>
<text x="20.20" y="585.25" font-size="7.6" text-anchor="end" fill="#333" stroke="#333" stroke-width="0.22" textLength="9.24" lengthAdjust="spacingAndGlyphs" >0.5</text>
<line x1="23.50" y1="570.22" x2="26.90" y2="570.22" stroke="#222" stroke-width="0.9"/>
<text x="20.20" y="572.32" font-size="7.6" text-anchor="end" fill="#333" stroke="#333" stroke-width="0.22" textLength="9.24" lengthAdjust="spacingAndGlyphs" >0.6</text>
<line x1="23.50" y1="557.29" x2="26.90" y2="557.29" stroke="#222" stroke-width="0.9"/>
<text x="20.20" y="559.39" font-size="7.6" text-anchor="end" fill="#333" stroke="#333" stroke-width="0.22" textLength="9.24" lengthAdjust="spacingAndGlyphs" >0.7</text>
<line x1="23.50" y1="544.36" x2="26.90" y2="544.36" stroke="#222" stroke-width="0.9"/>
<text x="20.20" y="546.46" font-size="7.6" text-anchor="end" fill="#333" stroke="#333" stroke-width="0.22" textLength="9.24" lengthAdjust="spacingAndGlyphs" >0.8</text>
<line x1="23.50" y1="531.43" x2="26.90" y2="531.43" stroke="#222" stroke-width="0.9"/>
<text x="20.20" y="533.53" font-size="7.6" text-anchor="end" fill="#333" stroke="#333" stroke-width="0.22" textLength="9.24" lengthAdjust="spacingAndGlyphs" >0.9</text>
<line x1="23.50" y1="518.50" x2="26.90" y2="518.50" stroke="#222" stroke-width="0.9"/>
<text x="20.20" y="520.60" font-size="7.6" text-anchor="end" fill="#333" stroke="#333" stroke-width="0.22" textLength="3.70" lengthAdjust="spacingAndGlyphs" >1</text>
<text x="53.60" y="656.80" font-size="6.9" text-anchor="middle" fill="#222" stroke="#222" stroke-width="0.2" textLength="22.60" lengthAdjust="spacingAndGlyphs" >Control</text>
<text x="108.00" y="656.80" font-size="6.9" text-anchor="middle" fill="#222" stroke="#222" stroke-width="0.2" textLength="38.00" lengthAdjust="spacingAndGlyphs" >C13 Glucose</text>
<text x="162.30" y="656.80" font-size="6.9" text-anchor="middle" fill="#222" stroke="#222" stroke-width="0.2" textLength="45.60" lengthAdjust="spacingAndGlyphs" >C13 Glutamine</text>
<text x="216.40" y="656.80" font-size="6.9" text-anchor="middle" fill="#222" stroke="#222" stroke-width="0.2" textLength="46.00" lengthAdjust="spacingAndGlyphs" >N15 Glutamine</text>
<rect x="54.60" y="664.90" width="4.60" height="4.60" fill="#A6032F" />
<text x="62.30" y="669.60" font-size="6.4" text-anchor="start" fill="#222" stroke="#222" stroke-width="0.15" >M</text>
<rect x="74.60" y="664.90" width="4.60" height="4.60" fill="#2F4F8E" />
<text x="82.30" y="669.60" font-size="6.4" text-anchor="start" fill="#222" stroke="#222" stroke-width="0.15" textLength="12.30" lengthAdjust="spacingAndGlyphs" >M+1</text>
<rect x="100.80" y="664.90" width="4.60" height="4.60" fill="#71B042" />
<text x="109.00" y="669.60" font-size="6.4" text-anchor="start" fill="#222" stroke="#222" stroke-width="0.15" textLength="12.40" lengthAdjust="spacingAndGlyphs" >M+2</text>
<rect x="127.80" y="664.90" width="4.60" height="4.60" fill="#4C2A6B" />
<text x="136.20" y="669.60" font-size="6.4" text-anchor="start" fill="#222" stroke="#222" stroke-width="0.15" textLength="11.60" lengthAdjust="spacingAndGlyphs" >M+3</text>
<rect x="154.60" y="664.90" width="4.60" height="4.60" fill="#E6A12C" />
<text x="162.30" y="669.60" font-size="6.4" text-anchor="start" fill="#222" stroke="#222" stroke-width="0.15" textLength="12.30" lengthAdjust="spacingAndGlyphs" >M+4</text>
<rect x="180.80" y="664.90" width="4.60" height="4.60" fill="#2E6A57" />
<text x="189.10" y="669.60" font-size="6.4" text-anchor="start" fill="#222" stroke="#222" stroke-width="0.15" textLength="12.30" lengthAdjust="spacingAndGlyphs" >M+5</text>
<text x="400.40" y="197.20" font-size="8.7" text-anchor="middle" fill="#222" stroke="#222" stroke-width="0.2" >Fumarate</text>
<rect x="299.20" y="221.29" width="10.20" height="84.71" fill="#A6032F" stroke="#222" stroke-opacity="0.35" stroke-width="0.5"/>
<line x1="304.30" y1="219.23" x2="304.30" y2="223.36" stroke="#111" stroke-width="1.0"/>
<line x1="302.80" y1="219.23" x2="305.80" y2="219.23" stroke="#111" stroke-width="1.0"/>
<line x1="302.80" y1="223.36" x2="305.80" y2="223.36" stroke="#111" stroke-width="1.0"/>
<rect x="311.55" y="291.54" width="10.20" height="14.46" fill="#2F4F8E" stroke="#222" stroke-opacity="0.35" stroke-width="0.5"/>
<line x1="316.65" y1="289.47" x2="316.65" y2="293.60" stroke="#111" stroke-width="1.0"/>
<line x1="315.15" y1="289.47" x2="318.15" y2="289.47" stroke="#111" stroke-width="1.0"/>
<line x1="315.15" y1="293.60" x2="318.15" y2="293.60" stroke="#111" stroke-width="1.0"/>
<rect x="323.90" y="302.80" width="10.20" height="3.20" fill="#71B042" stroke="#222" stroke-opacity="0.35" stroke-width="0.5"/>
<line x1="329.00" y1="299.80" x2="329.00" y2="306.00" stroke="#111" stroke-width="1.0"/>
<line x1="327.50" y1="299.80" x2="330.50" y2="299.80" stroke="#111" stroke-width="1.0"/>
<line x1="327.50" y1="306.00" x2="330.50" y2="306.00" stroke="#111" stroke-width="1.0"/>
<rect x="355.00" y="228.52" width="10.20" height="77.48" fill="#A6032F" stroke="#222" stroke-opacity="0.35" stroke-width="0.5"/>
<line x1="360.10" y1="212.00" x2="360.10" y2="245.05" stroke="#111" stroke-width="1.0"/>
<line x1="358.60" y1="212.00" x2="361.60" y2="212.00" stroke="#111" stroke-width="1.0"/>
<line x1="358.60" y1="245.05" x2="361.60" y2="245.05" stroke="#111" stroke-width="1.0"/>
<rect x="367.35" y="292.05" width="10.20" height="13.95" fill="#2F4F8E" stroke="#222" stroke-opacity="0.35" stroke-width="0.5"/>
<line x1="372.45" y1="279.76" x2="372.45" y2="304.97" stroke="#111" stroke-width="1.0"/>
<line x1="370.95" y1="279.76" x2="373.95" y2="279.76" stroke="#111" stroke-width="1.0"/>
<line x1="370.95" y1="304.97" x2="373.95" y2="304.97" stroke="#111" stroke-width="1.0"/>
<rect x="379.70" y="278.32" width="10.20" height="27.68" fill="#71B042" stroke="#222" stroke-opacity="0.35" stroke-width="0.5"/>
<line x1="384.80" y1="272.94" x2="384.80" y2="283.79" stroke="#111" stroke-width="1.0"/>
<line x1="383.30" y1="272.94" x2="386.30" y2="272.94" stroke="#111" stroke-width="1.0"/>
<line x1="383.30" y1="283.79" x2="386.30" y2="283.79" stroke="#111" stroke-width="1.0"/>
<rect x="411.20" y="248.67" width="10.20" height="57.33" fill="#A6032F" stroke="#222" stroke-opacity="0.35" stroke-width="0.5"/>
<line x1="416.30" y1="236.27" x2="416.30" y2="261.58" stroke="#111" stroke-width="1.0"/>
<line x1="414.80" y1="236.27" x2="417.80" y2="236.27" stroke="#111" stroke-width="1.0"/>
<line x1="414.80" y1="261.58" x2="417.80" y2="261.58" stroke="#111" stroke-width="1.0"/>
<rect x="423.55" y="287.30" width="10.20" height="18.70" fill="#2F4F8E" stroke="#222" stroke-opacity="0.35" stroke-width="0.5"/>
<line x1="428.65" y1="282.03" x2="428.65" y2="292.57" stroke="#111" stroke-width="1.0"/>
<line x1="427.15" y1="282.03" x2="430.15" y2="282.03" stroke="#111" stroke-width="1.0"/>
<line x1="427.15" y1="292.57" x2="430.15" y2="292.57" stroke="#111" stroke-width="1.0"/>
<rect x="435.90" y="290.30" width="10.20" height="15.70" fill="#71B042" stroke="#222" stroke-opacity="0.35" stroke-width="0.5"/>
<line x1="441.00" y1="288.44" x2="441.00" y2="292.05" stroke="#111" stroke-width="1.0"/>
<line x1="439.50" y1="288.44" x2="442.50" y2="288.44" stroke="#111" stroke-width="1.0"/>
<line x1="439.50" y1="292.05" x2="442.50" y2="292.05" stroke="#111" stroke-width="1.0"/>
<rect x="466.75" y="222.33" width="10.20" height="83.67" fill="#A6032F" stroke="#222" stroke-opacity="0.35" stroke-width="0.5"/>
<line x1="471.85" y1="220.78" x2="471.85" y2="223.88" stroke="#111" stroke-width="1.0"/>
<line x1="470.35" y1="220.78" x2="473.35" y2="220.78" stroke="#111" stroke-width="1.0"/>
<line x1="470.35" y1="223.88" x2="473.35" y2="223.88" stroke="#111" stroke-width="1.0"/>
<rect x="479.10" y="293.09" width="10.20" height="12.91" fill="#2F4F8E" stroke="#222" stroke-opacity="0.35" stroke-width="0.5"/>
<line x1="484.20" y1="292.57" x2="484.20" y2="293.60" stroke="#111" stroke-width="1.0"/>
<line x1="482.70" y1="292.57" x2="485.70" y2="292.57" stroke="#111" stroke-width="1.0"/>
<line x1="482.70" y1="293.60" x2="485.70" y2="293.60" stroke="#111" stroke-width="1.0"/>
<rect x="491.45" y="300.83" width="10.20" height="5.17" fill="#71B042" stroke="#222" stroke-opacity="0.35" stroke-width="0.5"/>
<line x1="496.55" y1="298.77" x2="496.55" y2="302.90" stroke="#111" stroke-width="1.0"/>
<line x1="495.05" y1="298.77" x2="498.05" y2="298.77" stroke="#111" stroke-width="1.0"/>
<line x1="495.05" y1="302.90" x2="498.05" y2="302.90" stroke="#111" stroke-width="1.0"/>
<line x1="288.80" y1="199.40" x2="288.80" y2="306.60" stroke="#333" stroke-width="1.5"/>
<line x1="288.20" y1="306.30" x2="511.75" y2="306.30" stroke="#1a1a1a" stroke-width="1.3"/>
<line x1="285.40" y1="306.00" x2="288.80" y2="306.00" stroke="#222" stroke-width="0.9"/>
<text x="282.60" y="308.10" font-size="7.6" text-anchor="end" fill="#333" stroke="#333" stroke-width="0.22" textLength="3.70" lengthAdjust="spacingAndGlyphs" >0</text>
<line x1="285.40" y1="285.34" x2="288.80" y2="285.34" stroke="#222" stroke-width="0.9"/>
<text x="282.60" y="287.44" font-size="7.6" text-anchor="end" fill="#333" stroke="#333" stroke-width="0.22" textLength="9.24" lengthAdjust="spacingAndGlyphs" >0.2</text>
<line x1="285.40" y1="264.68" x2="288.80" y2="264.68" stroke="#222" stroke-width="0.9"/>
<text x="282.60" y="266.78" font-size="7.6" text-anchor="end" fill="#333" stroke="#333" stroke-width="0.22" textLength="9.24" lengthAdjust="spacingAndGlyphs" >0.4</text>
<line x1="285.40" y1="244.02" x2="288.80" y2="244.02" stroke="#222" stroke-width="0.9"/>
<text x="282.60" y="246.12" font-size="7.6" text-anchor="end" fill="#333" stroke="#333" stroke-width="0.22" textLength="9.24" lengthAdjust="spacingAndGlyphs" >0.6</text>
<line x1="285.40" y1="223.36" x2="288.80" y2="223.36" stroke="#222" stroke-width="0.9"/>
<text x="282.60" y="225.46" font-size="7.6" text-anchor="end" fill="#333" stroke="#333" stroke-width="0.22" textLength="9.24" lengthAdjust="spacingAndGlyphs" >0.8</text>
<line x1="285.40" y1="202.70" x2="288.80" y2="202.70" stroke="#222" stroke-width="0.9"/>
<text x="282.60" y="204.80" font-size="7.6" text-anchor="end" fill="#333" stroke="#333" stroke-width="0.22" textLength="3.70" lengthAdjust="spacingAndGlyphs" >1</text>
<text x="316.30" y="315.00" font-size="6.9" text-anchor="middle" fill="#222" stroke="#222" stroke-width="0.2" textLength="22.60" lengthAdjust="spacingAndGlyphs" >Control</text>
<text x="372.40" y="315.00" font-size="6.9" text-anchor="middle" fill="#222" stroke="#222" stroke-width="0.2" textLength="38.00" lengthAdjust="spacingAndGlyphs" >C13 Glucose</text>
<text x="427.50" y="315.00" font-size="6.9" text-anchor="middle" fill="#222" stroke="#222" stroke-width="0.2" textLength="45.60" lengthAdjust="spacingAndGlyphs" >C13 Glutamine</text>
<text x="482.80" y="315.00" font-size="6.9" text-anchor="middle" fill="#222" stroke="#222" stroke-width="0.2" textLength="46.00" lengthAdjust="spacingAndGlyphs" >N15 Glutamine</text>
<text x="399.40" y="333.70" font-size="9.0" text-anchor="middle" fill="#222" stroke="#222" stroke-width="0.2" >Malate</text>
<rect x="295.75" y="369.90" width="6.60" height="80.10" fill="#A6032F" stroke="#222" stroke-opacity="0.35" stroke-width="0.5"/>
<line x1="299.05" y1="368.79" x2="299.05" y2="371.01" stroke="#111" stroke-width="1.0"/>
<line x1="297.55" y1="368.79" x2="300.55" y2="368.79" stroke="#111" stroke-width="1.0"/>
<line x1="297.55" y1="371.01" x2="300.55" y2="371.01" stroke="#111" stroke-width="1.0"/>
<rect x="303.90" y="429.53" width="6.60" height="20.47" fill="#2F4F8E" stroke="#222" stroke-opacity="0.35" stroke-width="0.5"/>
<line x1="307.20" y1="428.86" x2="307.20" y2="430.20" stroke="#111" stroke-width="1.0"/>
<line x1="305.70" y1="428.86" x2="308.70" y2="428.86" stroke="#111" stroke-width="1.0"/>
<line x1="305.70" y1="430.20" x2="308.70" y2="430.20" stroke="#111" stroke-width="1.0"/>
<rect x="312.05" y="440.77" width="6.60" height="9.23" fill="#71B042" stroke="#222" stroke-opacity="0.35" stroke-width="0.5"/>
<line x1="315.35" y1="439.99" x2="315.35" y2="441.55" stroke="#111" stroke-width="1.0"/>
<line x1="313.85" y1="439.99" x2="316.85" y2="439.99" stroke="#111" stroke-width="1.0"/>
<line x1="313.85" y1="441.55" x2="316.85" y2="441.55" stroke="#111" stroke-width="1.0"/>
<rect x="320.20" y="449.89" width="6.60" height="0.11" fill="#4C2A6B" stroke="#222" stroke-opacity="0.35" stroke-width="0.5"/>
<rect x="328.35" y="449.89" width="6.60" height="0.11" fill="#E6A12C" stroke="#222" stroke-opacity="0.35" stroke-width="0.5"/>
<rect x="352.50" y="401.27" width="6.60" height="48.73" fill="#A6032F" stroke="#222" stroke-opacity="0.35" stroke-width="0.5"/>
<line x1="355.80" y1="392.15" x2="355.80" y2="409.95" stroke="#111" stroke-width="1.0"/>
<line x1="354.30" y1="392.15" x2="357.30" y2="392.15" stroke="#111" stroke-width="1.0"/>
<line x1="354.30" y1="409.95" x2="357.30" y2="409.95" stroke="#111" stroke-width="1.0"/>
<rect x="360.65" y="427.53" width="6.60" height="22.47" fill="#2F4F8E" stroke="#222" stroke-opacity="0.35" stroke-width="0.5"/>
<line x1="363.95" y1="422.52" x2="363.95" y2="432.53" stroke="#111" stroke-width="1.0"/>
<line x1="362.45" y1="422.52" x2="365.45" y2="422.52" stroke="#111" stroke-width="1.0"/>
<line x1="362.45" y1="432.53" x2="365.45" y2="432.53" stroke="#111" stroke-width="1.0"/>
<rect x="368.80" y="421.96" width="6.60" height="28.04" fill="#71B042" stroke="#222" stroke-opacity="0.35" stroke-width="0.5"/>
<line x1="372.10" y1="416.29" x2="372.10" y2="427.75" stroke="#111" stroke-width="1.0"/>
<line x1="370.60" y1="416.29" x2="373.60" y2="416.29" stroke="#111" stroke-width="1.0"/>
<line x1="370.60" y1="427.75" x2="373.60" y2="427.75" stroke="#111" stroke-width="1.0"/>
<rect x="376.95" y="434.20" width="6.60" height="15.80" fill="#4C2A6B" stroke="#222" stroke-opacity="0.35" stroke-width="0.5"/>
<line x1="380.25" y1="430.53" x2="380.25" y2="437.76" stroke="#111" stroke-width="1.0"/>
<line x1="378.75" y1="430.53" x2="381.75" y2="430.53" stroke="#111" stroke-width="1.0"/>
<line x1="378.75" y1="437.76" x2="381.75" y2="437.76" stroke="#111" stroke-width="1.0"/>
<rect x="385.10" y="442.55" width="6.60" height="7.45" fill="#E6A12C" stroke="#222" stroke-opacity="0.35" stroke-width="0.5"/>
<line x1="388.40" y1="441.43" x2="388.40" y2="443.66" stroke="#111" stroke-width="1.0"/>
<line x1="386.90" y1="441.43" x2="389.90" y2="441.43" stroke="#111" stroke-width="1.0"/>
<line x1="386.90" y1="443.66" x2="389.90" y2="443.66" stroke="#111" stroke-width="1.0"/>
<rect x="409.25" y="404.28" width="6.60" height="45.72" fill="#A6032F" stroke="#222" stroke-opacity="0.35" stroke-width="0.5"/>
<line x1="412.55" y1="395.49" x2="412.55" y2="413.29" stroke="#111" stroke-width="1.0"/>
<line x1="411.05" y1="395.49" x2="414.05" y2="395.49" stroke="#111" stroke-width="1.0"/>
<line x1="411.05" y1="413.29" x2="414.05" y2="413.29" stroke="#111" stroke-width="1.0"/>
<rect x="417.40" y="427.53" width="6.60" height="22.47" fill="#2F4F8E" stroke="#222" stroke-opacity="0.35" stroke-width="0.5"/>
<line x1="420.70" y1="424.41" x2="420.70" y2="430.53" stroke="#111" stroke-width="1.0"/>
<line x1="419.20" y1="424.41" x2="422.20" y2="424.41" stroke="#111" stroke-width="1.0"/>
<line x1="419.20" y1="430.53" x2="422.20" y2="430.53" stroke="#111" stroke-width="1.0"/>
<rect x="425.55" y="432.98" width="6.60" height="17.02" fill="#71B042" stroke="#222" stroke-opacity="0.35" stroke-width="0.5"/>
<line x1="428.85" y1="429.98" x2="428.85" y2="436.09" stroke="#111" stroke-width="1.0"/>
<line x1="427.35" y1="429.98" x2="430.35" y2="429.98" stroke="#111" stroke-width="1.0"/>
<line x1="427.35" y1="436.09" x2="430.35" y2="436.09" stroke="#111" stroke-width="1.0"/>
<rect x="433.70" y="444.99" width="6.60" height="5.01" fill="#4C2A6B" stroke="#222" stroke-opacity="0.35" stroke-width="0.5"/>
<line x1="437.00" y1="444.44" x2="437.00" y2="445.55" stroke="#111" stroke-width="1.0"/>
<line x1="435.50" y1="444.44" x2="438.50" y2="444.44" stroke="#111" stroke-width="1.0"/>
<line x1="435.50" y1="445.55" x2="438.50" y2="445.55" stroke="#111" stroke-width="1.0"/>
<rect x="441.85" y="439.54" width="6.60" height="10.46" fill="#E6A12C" stroke="#222" stroke-opacity="0.35" stroke-width="0.5"/>
<line x1="445.15" y1="436.98" x2="445.15" y2="442.21" stroke="#111" stroke-width="1.0"/>
<line x1="443.65" y1="436.98" x2="446.65" y2="436.98" stroke="#111" stroke-width="1.0"/>
<line x1="443.65" y1="442.21" x2="446.65" y2="442.21" stroke="#111" stroke-width="1.0"/>
<rect x="465.75" y="371.01" width="6.60" height="78.99" fill="#A6032F" stroke="#222" stroke-opacity="0.35" stroke-width="0.5"/>
<line x1="469.05" y1="370.46" x2="469.05" y2="371.57" stroke="#111" stroke-width="1.0"/>
<line x1="467.55" y1="370.46" x2="470.55" y2="370.46" stroke="#111" stroke-width="1.0"/>
<line x1="467.55" y1="371.57" x2="470.55" y2="371.57" stroke="#111" stroke-width="1.0"/>
<rect x="473.90" y="426.97" width="6.60" height="23.03" fill="#2F4F8E" stroke="#222" stroke-opacity="0.35" stroke-width="0.5"/>
<line x1="477.20" y1="426.53" x2="477.20" y2="427.42" stroke="#111" stroke-width="1.0"/>
<line x1="475.70" y1="426.53" x2="478.70" y2="426.53" stroke="#111" stroke-width="1.0"/>
<line x1="475.70" y1="427.42" x2="478.70" y2="427.42" stroke="#111" stroke-width="1.0"/>
<rect x="482.05" y="440.21" width="6.60" height="9.79" fill="#71B042" stroke="#222" stroke-opacity="0.35" stroke-width="0.5"/>
<line x1="485.35" y1="439.76" x2="485.35" y2="440.65" stroke="#111" stroke-width="1.0"/>
<line x1="483.85" y1="439.76" x2="486.85" y2="439.76" stroke="#111" stroke-width="1.0"/>
<line x1="483.85" y1="440.65" x2="486.85" y2="440.65" stroke="#111" stroke-width="1.0"/>
<line x1="288.80" y1="335.45" x2="288.80" y2="450.60" stroke="#333" stroke-width="1.5"/>
<line x1="288.20" y1="450.30" x2="510.50" y2="450.30" stroke="#1a1a1a" stroke-width="1.3"/>
<line x1="285.40" y1="450.00" x2="288.80" y2="450.00" stroke="#222" stroke-width="0.9"/>
<text x="282.30" y="452.10" font-size="7.6" text-anchor="end" fill="#333" stroke="#333" stroke-width="0.22" textLength="3.70" lengthAdjust="spacingAndGlyphs" >0</text>
<line x1="285.40" y1="427.75" x2="288.80" y2="427.75" stroke="#222" stroke-width="0.9"/>
<text x="282.30" y="429.85" font-size="7.6" text-anchor="end" fill="#333" stroke="#333" stroke-width="0.22" textLength="9.24" lengthAdjust="spacingAndGlyphs" >0.2</text>
<line x1="285.40" y1="405.50" x2="288.80" y2="405.50" stroke="#222" stroke-width="0.9"/>
<text x="282.30" y="407.60" font-size="7.6" text-anchor="end" fill="#333" stroke="#333" stroke-width="0.22" textLength="9.24" lengthAdjust="spacingAndGlyphs" >0.4</text>
<line x1="285.40" y1="383.25" x2="288.80" y2="383.25" stroke="#222" stroke-width="0.9"/>
<text x="282.30" y="385.35" font-size="7.6" text-anchor="end" fill="#333" stroke="#333" stroke-width="0.22" textLength="9.24" lengthAdjust="spacingAndGlyphs" >0.6</text>
<line x1="285.40" y1="361.00" x2="288.80" y2="361.00" stroke="#222" stroke-width="0.9"/>
<text x="282.30" y="363.10" font-size="7.6" text-anchor="end" fill="#333" stroke="#333" stroke-width="0.22" textLength="9.24" lengthAdjust="spacingAndGlyphs" >0.8</text>
<line x1="285.40" y1="338.75" x2="288.80" y2="338.75" stroke="#222" stroke-width="0.9"/>
<text x="282.30" y="340.85" font-size="7.6" text-anchor="end" fill="#333" stroke="#333" stroke-width="0.22" textLength="3.70" lengthAdjust="spacingAndGlyphs" >1</text>
<text x="313.70" y="459.50" font-size="6.9" text-anchor="middle" fill="#222" stroke="#222" stroke-width="0.2" textLength="22.60" lengthAdjust="spacingAndGlyphs" >Control</text>
<text x="370.40" y="459.50" font-size="6.9" text-anchor="middle" fill="#222" stroke="#222" stroke-width="0.2" textLength="38.00" lengthAdjust="spacingAndGlyphs" >C13 Glucose</text>
<text x="427.30" y="459.50" font-size="6.9" text-anchor="middle" fill="#222" stroke="#222" stroke-width="0.2" textLength="45.60" lengthAdjust="spacingAndGlyphs" >C13 Glutamine</text>
<text x="482.80" y="459.50" font-size="6.9" text-anchor="middle" fill="#222" stroke="#222" stroke-width="0.2" textLength="46.00" lengthAdjust="spacingAndGlyphs" >N15 Glutamine</text>
<rect x="332.00" y="468.00" width="4.50" height="4.50" fill="#A6032F" />
<text x="340.50" y="472.50" font-size="6.2" text-anchor="start" fill="#222" stroke="#222" stroke-width="0.15" >M</text>
<rect x="352.50" y="468.00" width="4.50" height="4.50" fill="#2F4F8E" />
<text x="360.00" y="472.50" font-size="6.2" text-anchor="start" fill="#222" stroke="#222" stroke-width="0.15" textLength="11.70" lengthAdjust="spacingAndGlyphs" >M+1</text>
<rect x="378.75" y="468.00" width="4.50" height="4.50" fill="#71B042" />
<text x="386.75" y="472.50" font-size="6.2" text-anchor="start" fill="#222" stroke="#222" stroke-width="0.15" textLength="11.50" lengthAdjust="spacingAndGlyphs" >M+2</text>
<rect x="405.00" y="468.00" width="4.50" height="4.50" fill="#4C2A6B" />
<text x="413.00" y="472.50" font-size="6.2" text-anchor="start" fill="#222" stroke="#222" stroke-width="0.15" textLength="12.00" lengthAdjust="spacingAndGlyphs" >M+3</text>
<rect x="432.00" y="468.00" width="4.50" height="4.50" fill="#E6A12C" />
<text x="440.00" y="472.50" font-size="6.2" text-anchor="start" fill="#222" stroke="#222" stroke-width="0.15" textLength="11.25" lengthAdjust="spacingAndGlyphs" >M+4</text>
<text x="400.20" y="550.00" font-size="9" text-anchor="middle" fill="#333" ></text>
<text x="400.30" y="512.30" font-size="9.0" text-anchor="middle" fill="#222" stroke="#222" stroke-width="0.2" >Proline</text>
<rect x="296.25" y="544.15" width="6.25" height="103.45" fill="#A6032F" stroke="#222" stroke-opacity="0.35" stroke-width="0.5"/>
<line x1="299.38" y1="542.89" x2="299.38" y2="545.40" stroke="#111" stroke-width="1.0"/>
<line x1="297.88" y1="542.89" x2="300.88" y2="542.89" stroke="#111" stroke-width="1.0"/>
<line x1="297.88" y1="545.40" x2="300.88" y2="545.40" stroke="#111" stroke-width="1.0"/>
<rect x="304.30" y="632.18" width="6.25" height="15.42" fill="#2F4F8E" stroke="#222" stroke-opacity="0.35" stroke-width="0.5"/>
<line x1="307.43" y1="631.55" x2="307.43" y2="632.80" stroke="#111" stroke-width="1.0"/>
<line x1="305.93" y1="631.55" x2="308.93" y2="631.55" stroke="#111" stroke-width="1.0"/>
<line x1="305.93" y1="632.80" x2="308.93" y2="632.80" stroke="#111" stroke-width="1.0"/>
<rect x="312.35" y="647.22" width="6.25" height="0.38" fill="#71B042" stroke="#222" stroke-opacity="0.35" stroke-width="0.5"/>
<rect x="320.40" y="642.83" width="6.25" height="4.77" fill="#4C2A6B" stroke="#222" stroke-opacity="0.35" stroke-width="0.5"/>
<line x1="323.52" y1="642.33" x2="323.52" y2="643.34" stroke="#111" stroke-width="1.0"/>
<line x1="322.02" y1="642.33" x2="325.02" y2="642.33" stroke="#111" stroke-width="1.0"/>
<line x1="322.02" y1="643.34" x2="325.02" y2="643.34" stroke="#111" stroke-width="1.0"/>
<rect x="328.45" y="646.10" width="6.25" height="1.50" fill="#E6A12C" stroke="#222" stroke-opacity="0.35" stroke-width="0.5"/>
<line x1="331.57" y1="645.09" x2="331.57" y2="647.10" stroke="#111" stroke-width="1.0"/>
<line x1="330.07" y1="645.09" x2="333.07" y2="645.09" stroke="#111" stroke-width="1.0"/>
<line x1="330.07" y1="647.10" x2="333.07" y2="647.10" stroke="#111" stroke-width="1.0"/>
<rect x="352.50" y="577.63" width="6.25" height="69.97" fill="#A6032F" stroke="#222" stroke-opacity="0.35" stroke-width="0.5"/>
<line x1="355.62" y1="576.37" x2="355.62" y2="578.88" stroke="#111" stroke-width="1.0"/>
<line x1="354.12" y1="576.37" x2="357.12" y2="576.37" stroke="#111" stroke-width="1.0"/>
<line x1="354.12" y1="578.88" x2="357.12" y2="578.88" stroke="#111" stroke-width="1.0"/>
<rect x="360.55" y="628.92" width="6.25" height="18.68" fill="#2F4F8E" stroke="#222" stroke-opacity="0.35" stroke-width="0.5"/>
<line x1="363.68" y1="628.41" x2="363.68" y2="629.42" stroke="#111" stroke-width="1.0"/>
<line x1="362.18" y1="628.41" x2="365.18" y2="628.41" stroke="#111" stroke-width="1.0"/>
<line x1="362.18" y1="629.42" x2="365.18" y2="629.42" stroke="#111" stroke-width="1.0"/>
<rect x="368.60" y="640.08" width="6.25" height="7.52" fill="#71B042" stroke="#222" stroke-opacity="0.35" stroke-width="0.5"/>
<line x1="371.73" y1="635.81" x2="371.73" y2="643.21" stroke="#111" stroke-width="1.0"/>
<line x1="370.23" y1="635.81" x2="373.23" y2="635.81" stroke="#111" stroke-width="1.0"/>
<line x1="370.23" y1="643.21" x2="373.23" y2="643.21" stroke="#111" stroke-width="1.0"/>
<rect x="376.65" y="629.67" width="6.25" height="17.93" fill="#4C2A6B" stroke="#222" stroke-opacity="0.35" stroke-width="0.5"/>
<line x1="379.77" y1="626.03" x2="379.77" y2="633.18" stroke="#111" stroke-width="1.0"/>
<line x1="378.27" y1="626.03" x2="381.27" y2="626.03" stroke="#111" stroke-width="1.0"/>
<line x1="378.27" y1="633.18" x2="381.27" y2="633.18" stroke="#111" stroke-width="1.0"/>
<rect x="384.70" y="638.32" width="6.25" height="9.28" fill="#E6A12C" stroke="#222" stroke-opacity="0.35" stroke-width="0.5"/>
<line x1="387.82" y1="629.67" x2="387.82" y2="646.97" stroke="#111" stroke-width="1.0"/>
<line x1="386.32" y1="629.67" x2="389.32" y2="629.67" stroke="#111" stroke-width="1.0"/>
<line x1="386.32" y1="646.97" x2="389.32" y2="646.97" stroke="#111" stroke-width="1.0"/>
<rect x="409.25" y="578.88" width="6.25" height="68.72" fill="#A6032F" stroke="#222" stroke-opacity="0.35" stroke-width="0.5"/>
<line x1="412.38" y1="576.75" x2="412.38" y2="580.51" stroke="#111" stroke-width="1.0"/>
<line x1="410.88" y1="576.75" x2="413.88" y2="576.75" stroke="#111" stroke-width="1.0"/>
<line x1="410.88" y1="580.51" x2="413.88" y2="580.51" stroke="#111" stroke-width="1.0"/>
<rect x="417.30" y="628.41" width="6.25" height="19.19" fill="#2F4F8E" stroke="#222" stroke-opacity="0.35" stroke-width="0.5"/>
<line x1="420.43" y1="627.91" x2="420.43" y2="628.92" stroke="#111" stroke-width="1.0"/>
<line x1="418.93" y1="627.91" x2="421.93" y2="627.91" stroke="#111" stroke-width="1.0"/>
<line x1="418.93" y1="628.92" x2="421.93" y2="628.92" stroke="#111" stroke-width="1.0"/>
<rect x="425.35" y="642.58" width="6.25" height="5.02" fill="#71B042" stroke="#222" stroke-opacity="0.35" stroke-width="0.5"/>
<line x1="428.48" y1="638.82" x2="428.48" y2="646.35" stroke="#111" stroke-width="1.0"/>
<line x1="426.98" y1="638.82" x2="429.98" y2="638.82" stroke="#111" stroke-width="1.0"/>
<line x1="426.98" y1="646.35" x2="429.98" y2="646.35" stroke="#111" stroke-width="1.0"/>
<rect x="433.40" y="631.42" width="6.25" height="16.18" fill="#4C2A6B" stroke="#222" stroke-opacity="0.35" stroke-width="0.5"/>
<line x1="436.52" y1="627.66" x2="436.52" y2="635.06" stroke="#111" stroke-width="1.0"/>
<line x1="435.02" y1="627.66" x2="438.02" y2="627.66" stroke="#111" stroke-width="1.0"/>
<line x1="435.02" y1="635.06" x2="438.02" y2="635.06" stroke="#111" stroke-width="1.0"/>
<rect x="441.45" y="632.55" width="6.25" height="15.05" fill="#E6A12C" stroke="#222" stroke-opacity="0.35" stroke-width="0.5"/>
<line x1="444.57" y1="623.90" x2="444.57" y2="641.33" stroke="#111" stroke-width="1.0"/>
<line x1="443.07" y1="623.90" x2="446.07" y2="623.90" stroke="#111" stroke-width="1.0"/>
<line x1="443.07" y1="641.33" x2="446.07" y2="641.33" stroke="#111" stroke-width="1.0"/>
<rect x="465.50" y="566.72" width="6.25" height="80.88" fill="#A6032F" stroke="#222" stroke-opacity="0.35" stroke-width="0.5"/>
<line x1="468.62" y1="566.09" x2="468.62" y2="567.34" stroke="#111" stroke-width="1.0"/>
<line x1="467.12" y1="566.09" x2="470.12" y2="566.09" stroke="#111" stroke-width="1.0"/>
<line x1="467.12" y1="567.34" x2="470.12" y2="567.34" stroke="#111" stroke-width="1.0"/>
<rect x="473.55" y="612.11" width="6.25" height="35.49" fill="#2F4F8E" stroke="#222" stroke-opacity="0.35" stroke-width="0.5"/>
<line x1="476.68" y1="611.23" x2="476.68" y2="612.99" stroke="#111" stroke-width="1.0"/>
<line x1="475.18" y1="611.23" x2="478.18" y2="611.23" stroke="#111" stroke-width="1.0"/>
<line x1="475.18" y1="612.99" x2="478.18" y2="612.99" stroke="#111" stroke-width="1.0"/>
<rect x="481.60" y="646.97" width="6.25" height="0.63" fill="#71B042" stroke="#222" stroke-opacity="0.35" stroke-width="0.5"/>
<rect x="489.65" y="640.58" width="6.25" height="7.02" fill="#4C2A6B" stroke="#222" stroke-opacity="0.35" stroke-width="0.5"/>
<line x1="492.77" y1="640.20" x2="492.77" y2="640.95" stroke="#111" stroke-width="1.0"/>
<line x1="491.27" y1="640.20" x2="494.27" y2="640.20" stroke="#111" stroke-width="1.0"/>
<line x1="491.27" y1="640.95" x2="494.27" y2="640.95" stroke="#111" stroke-width="1.0"/>
<rect x="497.70" y="647.22" width="6.25" height="0.38" fill="#E6A12C" stroke="#222" stroke-opacity="0.35" stroke-width="0.5"/>
<line x1="288.90" y1="518.90" x2="288.90" y2="648.20" stroke="#333" stroke-width="1.5"/>
<line x1="288.30" y1="647.90" x2="510.50" y2="647.90" stroke="#1a1a1a" stroke-width="1.3"/>
<line x1="285.50" y1="647.60" x2="288.90" y2="647.60" stroke="#222" stroke-width="0.9"/>
<text x="282.20" y="649.70" font-size="7.6" text-anchor="end" fill="#333" stroke="#333" stroke-width="0.22" textLength="3.70" lengthAdjust="spacingAndGlyphs" >0</text>
<line x1="285.50" y1="635.06" x2="288.90" y2="635.06" stroke="#222" stroke-width="0.9"/>
<text x="282.20" y="637.16" font-size="7.6" text-anchor="end" fill="#333" stroke="#333" stroke-width="0.22" textLength="9.24" lengthAdjust="spacingAndGlyphs" >0.1</text>
<line x1="285.50" y1="622.52" x2="288.90" y2="622.52" stroke="#222" stroke-width="0.9"/>
<text x="282.20" y="624.62" font-size="7.6" text-anchor="end" fill="#333" stroke="#333" stroke-width="0.22" textLength="9.24" lengthAdjust="spacingAndGlyphs" >0.2</text>
<line x1="285.50" y1="609.98" x2="288.90" y2="609.98" stroke="#222" stroke-width="0.9"/>
<text x="282.20" y="612.08" font-size="7.6" text-anchor="end" fill="#333" stroke="#333" stroke-width="0.22" textLength="9.24" lengthAdjust="spacingAndGlyphs" >0.3</text>
<line x1="285.50" y1="597.44" x2="288.90" y2="597.44" stroke="#222" stroke-width="0.9"/>
<text x="282.20" y="599.54" font-size="7.6" text-anchor="end" fill="#333" stroke="#333" stroke-width="0.22" textLength="9.24" lengthAdjust="spacingAndGlyphs" >0.4</text>
<line x1="285.50" y1="584.90" x2="288.90" y2="584.90" stroke="#222" stroke-width="0.9"/>
<text x="282.20" y="587.00" font-size="7.6" text-anchor="end" fill="#333" stroke="#333" stroke-width="0.22" textLength="9.24" lengthAdjust="spacingAndGlyphs" >0.5</text>
<line x1="285.50" y1="572.36" x2="288.90" y2="572.36" stroke="#222" stroke-width="0.9"/>
<text x="282.20" y="574.46" font-size="7.6" text-anchor="end" fill="#333" stroke="#333" stroke-width="0.22" textLength="9.24" lengthAdjust="spacingAndGlyphs" >0.6</text>
<line x1="285.50" y1="559.82" x2="288.90" y2="559.82" stroke="#222" stroke-width="0.9"/>
<text x="282.20" y="561.92" font-size="7.6" text-anchor="end" fill="#333" stroke="#333" stroke-width="0.22" textLength="9.24" lengthAdjust="spacingAndGlyphs" >0.7</text>
<line x1="285.50" y1="547.28" x2="288.90" y2="547.28" stroke="#222" stroke-width="0.9"/>
<text x="282.20" y="549.38" font-size="7.6" text-anchor="end" fill="#333" stroke="#333" stroke-width="0.22" textLength="9.24" lengthAdjust="spacingAndGlyphs" >0.8</text>
<line x1="285.50" y1="534.74" x2="288.90" y2="534.74" stroke="#222" stroke-width="0.9"/>
<text x="282.20" y="536.84" font-size="7.6" text-anchor="end" fill="#333" stroke="#333" stroke-width="0.22" textLength="9.24" lengthAdjust="spacingAndGlyphs" >0.9</text>
<line x1="285.50" y1="522.20" x2="288.90" y2="522.20" stroke="#222" stroke-width="0.9"/>
<text x="282.20" y="524.30" font-size="7.6" text-anchor="end" fill="#333" stroke="#333" stroke-width="0.22" textLength="3.70" lengthAdjust="spacingAndGlyphs" >1</text>
<text x="315.00" y="657.00" font-size="6.9" text-anchor="middle" fill="#222" stroke="#222" stroke-width="0.2" textLength="22.60" lengthAdjust="spacingAndGlyphs" >Control</text>
<text x="371.00" y="657.00" font-size="6.9" text-anchor="middle" fill="#222" stroke="#222" stroke-width="0.2" textLength="38.00" lengthAdjust="spacingAndGlyphs" >C13 Glucose</text>
<text x="428.00" y="657.00" font-size="6.9" text-anchor="middle" fill="#222" stroke="#222" stroke-width="0.2" textLength="45.60" lengthAdjust="spacingAndGlyphs" >C13 Glutamine</text>
<text x="484.80" y="657.00" font-size="6.9" text-anchor="middle" fill="#222" stroke="#222" stroke-width="0.2" textLength="46.00" lengthAdjust="spacingAndGlyphs" >N15 Glutamine</text>
<rect x="342.00" y="523.40" width="4.10" height="4.00" fill="#A6032F" />
<text x="349.50" y="526.90" font-size="6.0" text-anchor="start" fill="#222" stroke="#222" stroke-width="0.15" >M</text>
<rect x="360.75" y="523.40" width="4.10" height="4.00" fill="#2F4F8E" />
<text x="368.25" y="526.90" font-size="6.0" text-anchor="start" fill="#222" stroke="#222" stroke-width="0.15" textLength="11.75" lengthAdjust="spacingAndGlyphs" >M+1</text>
<rect x="387.00" y="523.40" width="4.10" height="4.00" fill="#71B042" />
<text x="394.25" y="526.90" font-size="6.0" text-anchor="start" fill="#222" stroke="#222" stroke-width="0.15" textLength="11.50" lengthAdjust="spacingAndGlyphs" >M+2</text>
<rect x="413.25" y="523.40" width="4.10" height="4.00" fill="#4C2A6B" />
<text x="420.00" y="526.90" font-size="6.0" text-anchor="start" fill="#222" stroke="#222" stroke-width="0.15" textLength="11.75" lengthAdjust="spacingAndGlyphs" >M+3</text>
<rect x="438.25" y="523.40" width="4.10" height="4.00" fill="#E6A12C" />
<text x="446.25" y="526.90" font-size="6.0" text-anchor="start" fill="#222" stroke="#222" stroke-width="0.15" textLength="11.25" lengthAdjust="spacingAndGlyphs" >M+4</text>
<rect x="0.00" y="0.00" width="520.00" height="1.00" fill="#000" />
<rect x="0.00" y="1.00" width="520.00" height="1.00" fill="#888" />
<rect x="0.00" y="0.00" width="1.00" height="678.00" fill="#000" />
<rect x="1.00" y="1.00" width="1.00" height="677.00" fill="#777" />
<rect x="519.00" y="0.00" width="1.00" height="678.00" fill="#000" />
<rect x="518.00" y="1.00" width="1.00" height="676.00" fill="#777" />
<rect x="0.00" y="677.00" width="520.00" height="1.00" fill="#000" />
<rect x="1.00" y="676.00" width="518.00" height="1.00" fill="#999" />
</svg></div></body></html>
